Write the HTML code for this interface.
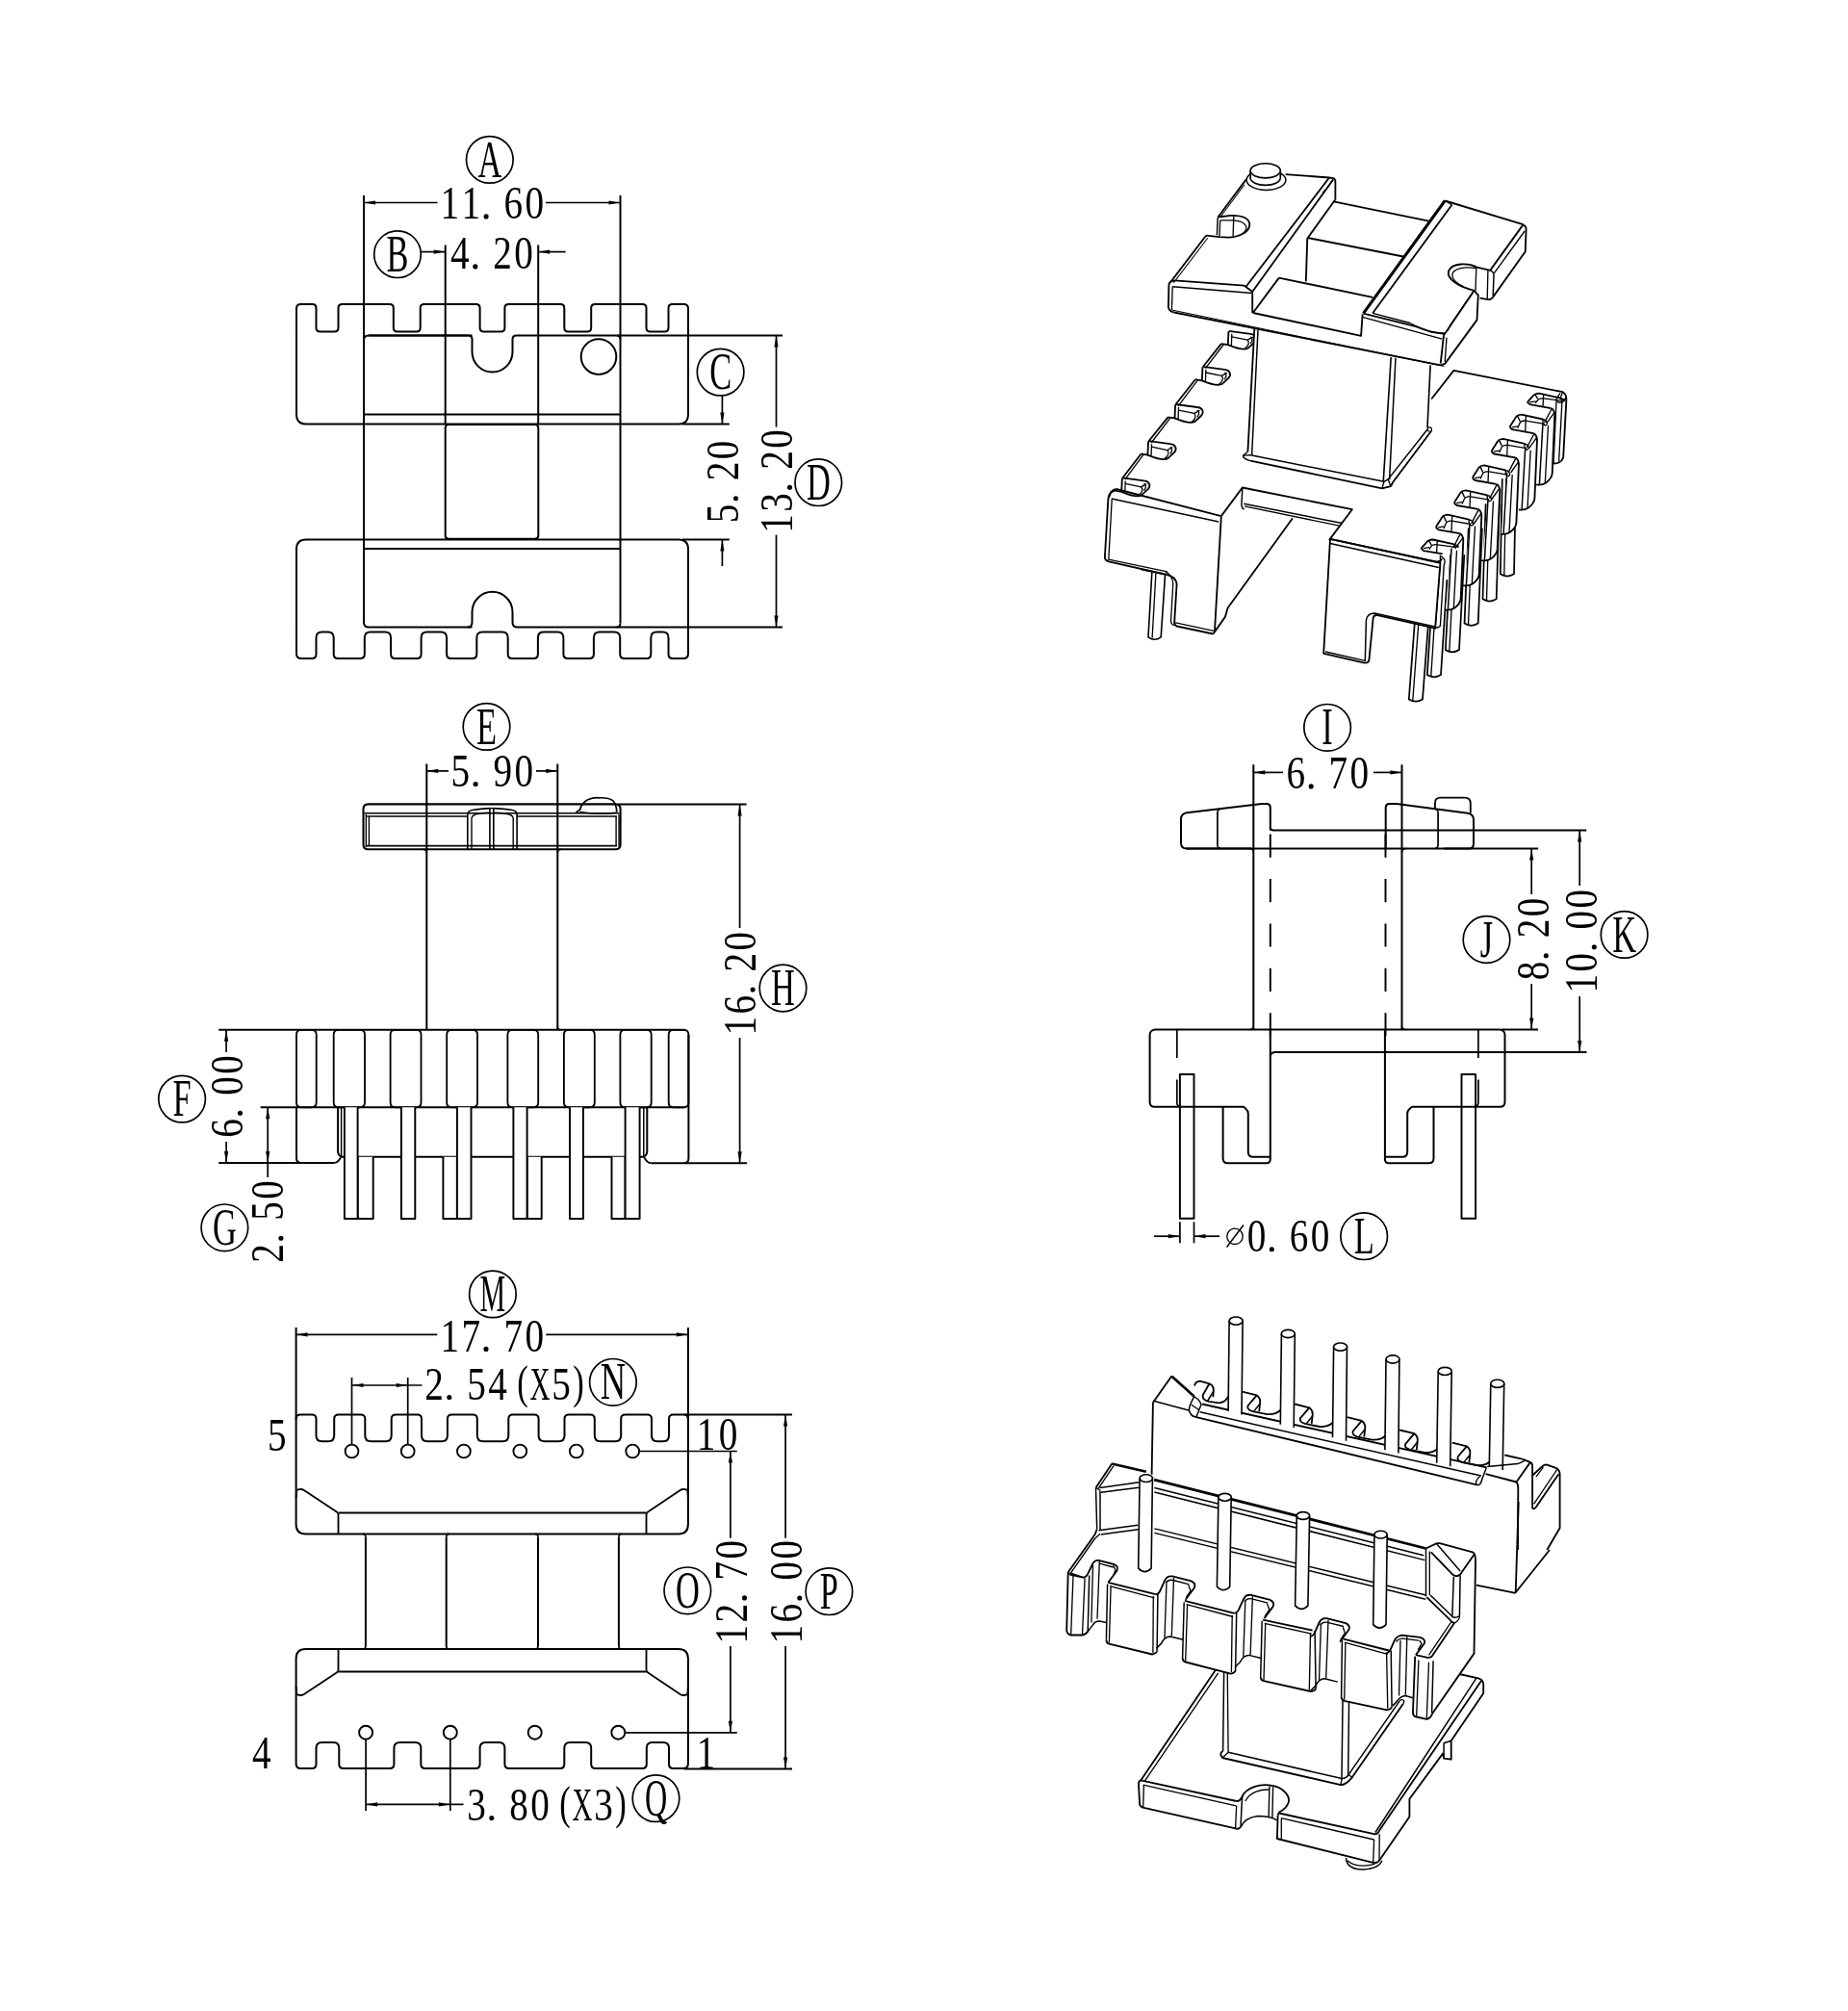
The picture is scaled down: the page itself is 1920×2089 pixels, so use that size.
<!DOCTYPE html>
<html><head><meta charset="utf-8"><title>Bobbin drawing</title>
<style>
html,body{margin:0;padding:0;background:#fff;}
body{width:1920px;height:2089px;overflow:hidden;}
svg{display:block;font-family:"Liberation Serif",serif;}
svg path{stroke-linecap:butt;stroke-linejoin:round;}
</style></head><body>
<svg width="1920" height="2089" viewBox="0 0 1920 2089">
<rect width="1920" height="2089" fill="#fff"/>
<g style="opacity:0.999">
<g id="v1">
<path d="M318 440.5Q308 440.5 308 430.5L308 320.5Q308 316 312.5 316L324.5 316Q328.5 316 328.5 320L328.5 340.5Q328.5 344.5 332.5 344.5L347.5 344.5Q351.5 344.5 351.5 340.5L351.5 320Q351.5 316 355.5 316L404.8 316Q408.8 316 408.8 320L408.8 340.5Q408.8 344.5 412.8 344.5L432.7 344.5Q436.7 344.5 436.7 340.5L436.7 320Q436.7 316 440.7 316L494.6 316Q498.6 316 498.6 320L498.6 340.5Q498.6 344.5 502.6 344.5L520.4 344.5Q524.4 344.5 524.4 340.5L524.4 320Q524.4 316 528.4 316L582.3 316Q586.3 316 586.3 320L586.3 340.5Q586.3 344.5 590.3 344.5L610.2 344.5Q614.2 344.5 614.2 340.5L614.2 320Q614.2 316 618.2 316L667.5 316Q671.5 316 671.5 320L671.5 340.5Q671.5 344.5 675.5 344.5L690.5 344.5Q694.5 344.5 694.5 340.5L694.5 320Q694.5 316 698.5 316L710.5 316Q715 316 715 320.5L715 430.5Q715 440.5 705 440.5Z" fill="none" stroke="#000" stroke-width="2.01" />
<path d="M378 440.5L378 353.5Q378 348.5 383 348.5L490.5 348.5" fill="none" stroke="#000" stroke-width="2.01" />
<path d="M486.5 348.5Q490.5 348.5 490.5 352.5L490.5 365.5A21 21 0 0 0 532.5 365.5L532.5 352.5Q532.5 348.5 536.5 348.5L640.5 348.5" fill="none" stroke="#000" stroke-width="2.01" />
<path d="M486.5 348.5L383 348.5" stroke="#000" stroke-width="2.01" fill="none" />
<path d="M378 430.5L644.5 430.5" stroke="#000" stroke-width="2.01" fill="none" />
<circle cx="622" cy="370.6" r="18.3" fill="none" stroke="#000" stroke-width="2.0"/>
<path d="M462.7 444.5Q462.7 441 466.2 441L555.8 441Q559.3 441 559.3 444.5L559.3 556.3Q559.3 559.8 555.8 559.8L466.2 559.8Q462.7 559.8 462.7 556.3Z" fill="none" stroke="#000" stroke-width="2.01" />
<path d="M318 560.5Q308 560.5 308 570.5L308 679Q308 684 313 684L324 684Q328.5 684 328.5 679.5L328.5 662.4Q328.5 656.4 334.5 656.4L340.7 656.4Q346.7 656.4 346.7 662.4L346.7 679.5Q346.7 684 351.2 684L374.3 684Q378.8 684 378.8 679.5L378.8 662.4Q378.8 656.4 384.8 656.4L400.1 656.4Q406.1 656.4 406.1 662.4L406.1 679.5Q406.1 684 410.6 684L433.1 684Q437.6 684 437.6 679.5L437.6 662.4Q437.6 656.4 443.6 656.4L458.1 656.4Q464.1 656.4 464.1 662.4L464.1 679.5Q464.1 684 468.6 684L490.8 684Q495.3 684 495.3 679.5L495.3 662.4Q495.3 656.4 501.3 656.4L521.7 656.4Q527.7 656.4 527.7 662.4L527.7 679.5Q527.7 684 532.2 684L554.4 684Q558.9 684 558.9 679.5L558.9 662.4Q558.9 656.4 564.9 656.4L579.4 656.4Q585.4 656.4 585.4 662.4L585.4 679.5Q585.4 684 589.9 684L612.4 684Q616.9 684 616.9 679.5L616.9 662.4Q616.9 656.4 622.9 656.4L638.2 656.4Q644.2 656.4 644.2 662.4L644.2 679.5Q644.2 684 648.7 684L671.8 684Q676.3 684 676.3 679.5L676.3 662.4Q676.3 656.4 682.3 656.4L688.5 656.4Q694.5 656.4 694.5 662.4L694.5 679.5Q694.5 684 699 684L710 684Q715 684 715 679L715 570.5Q715 560.5 705 560.5Z" fill="none" stroke="#000" stroke-width="2.01" />
<path d="M378 570L644.5 570" stroke="#000" stroke-width="2.01" fill="none" />
<path d="M378 560.5L378 646.6Q378 651.6 383 651.6L490.5 651.6" fill="none" stroke="#000" stroke-width="2.01" />
<path d="M485.5 651.6Q490.5 651.6 490.5 646.6L490.5 635.8A21 21 0 0 1 532.5 635.8L532.5 646.6Q532.5 651.6 537.5 651.6L813 651.6" fill="none" stroke="#000" stroke-width="2.01" />
<path d="M378 203L378 647.6" stroke="#000" stroke-width="2.01" fill="none" />
<path d="M644.5 203L644.5 647.6" stroke="#000" stroke-width="2.01" fill="none" />
<path d="M644.5 647.6Q644.5 651.6 640.5 651.6" fill="none" stroke="#000" stroke-width="2.01" />
<path d="M462.7 254.5L462.7 441" stroke="#000" stroke-width="2.01" fill="none" />
<path d="M559.2 254.5L559.2 441" stroke="#000" stroke-width="2.01" fill="none" />
<path d="M640.5 348.5L813 348.5" stroke="#000" stroke-width="2.01" fill="none" />
<path d="M644.5 352.5Q644.5 348.5 640.5 348.5" fill="none" stroke="#000" stroke-width="2.01" />
<path d="M378 210.5L454.5 210.5" stroke="#000" stroke-width="1.72" fill="none" />
<path d="M567 210.5L644.5 210.5" stroke="#000" stroke-width="1.72" fill="none" />
<path d="M378 210.5L390 208.4L390 212.6Z" fill="#000"/>
<path d="M644.5 210.5L632.5 212.6L632.5 208.4Z" fill="#000"/>
<text transform="translate(467.2 227.4) scale(0.8 1)" font-size="49" text-anchor="middle">1</text>
<text transform="translate(489.2 227.4) scale(0.8 1)" font-size="49" text-anchor="middle">1</text>
<circle cx="505.1" cy="224.9" r="2.55" fill="#000"/>
<text transform="translate(533.2 227.4) scale(0.8 1)" font-size="49" text-anchor="middle">6</text>
<text transform="translate(555.2 227.4) scale(0.8 1)" font-size="49" text-anchor="middle">0</text>
<circle cx="508.8" cy="165.9" r="24.3" fill="none" stroke="#000" stroke-width="1.7"/>
<text transform="translate(508.8 183.5) scale(0.62 1)" font-size="55.5" text-anchor="middle">A</text>
<path d="M437.5 261.6L462.7 261.6" stroke="#000" stroke-width="1.72" fill="none" />
<path d="M559.2 261.6L587.6 261.6" stroke="#000" stroke-width="1.72" fill="none" />
<path d="M462.7 261.6L450.7 263.7L450.7 259.5Z" fill="#000"/>
<path d="M559.2 261.6L571.2 259.5L571.2 263.7Z" fill="#000"/>
<text transform="translate(477.9 279.4) scale(0.8 1)" font-size="49" text-anchor="middle">4</text>
<circle cx="493.8" cy="276.9" r="2.55" fill="#000"/>
<text transform="translate(522 279.4) scale(0.8 1)" font-size="49" text-anchor="middle">2</text>
<text transform="translate(544 279.4) scale(0.8 1)" font-size="49" text-anchor="middle">0</text>
<circle cx="413" cy="264.2" r="24.3" fill="none" stroke="#000" stroke-width="1.7"/>
<text transform="translate(413 281.8) scale(0.62 1)" font-size="55.5" text-anchor="middle">B</text>
<path d="M709 440.5L757.8 440.5" stroke="#000" stroke-width="2.01" fill="none" />
<path d="M709 560.5L757.8 560.5" stroke="#000" stroke-width="2.01" fill="none" />
<path d="M750.4 411L750.4 440.5" stroke="#000" stroke-width="1.72" fill="none" />
<path d="M750.4 440.5L748.3 428.5L752.5 428.5Z" fill="#000"/>
<path d="M750.4 560.5L750.4 588" stroke="#000" stroke-width="1.72" fill="none" />
<path d="M750.4 560.5L752.5 572.5L748.3 572.5Z" fill="#000"/>
<g transform="translate(767 500.5) rotate(-90)">
<text transform="translate(-33 0) scale(0.8 1)" font-size="49" text-anchor="middle">5</text>
<circle cx="-17.2" cy="-2.5" r="2.55" fill="#000"/>
<text transform="translate(11 0) scale(0.8 1)" font-size="49" text-anchor="middle">2</text>
<text transform="translate(33 0) scale(0.8 1)" font-size="49" text-anchor="middle">0</text>
</g>
<circle cx="748.6" cy="386.6" r="24.3" fill="none" stroke="#000" stroke-width="1.7"/>
<text transform="translate(748.6 404.2) scale(0.62 1)" font-size="55.5" text-anchor="middle">C</text>
<path d="M806.5 348.5L806.5 443.6" stroke="#000" stroke-width="1.72" fill="none" />
<path d="M806.5 555.6L806.5 651.6" stroke="#000" stroke-width="1.72" fill="none" />
<path d="M806.5 348.5L808.6 360.5L804.4 360.5Z" fill="#000"/>
<path d="M806.5 651.6L804.4 639.6L808.6 639.6Z" fill="#000"/>
<g transform="translate(823 500) rotate(-90)">
<text transform="translate(-44 0) scale(0.8 1)" font-size="49" text-anchor="middle">1</text>
<text transform="translate(-22 0) scale(0.8 1)" font-size="49" text-anchor="middle">3</text>
<circle cx="-6.2" cy="-2.5" r="2.55" fill="#000"/>
<text transform="translate(22 0) scale(0.8 1)" font-size="49" text-anchor="middle">2</text>
<text transform="translate(44 0) scale(0.8 1)" font-size="49" text-anchor="middle">0</text>
</g>
<circle cx="850.3" cy="501.2" r="24.3" fill="none" stroke="#000" stroke-width="1.7"/>
<text transform="translate(850.3 518.8) scale(0.62 1)" font-size="55.5" text-anchor="middle">D</text>
</g>
<g id="v2">
<path d="M598.3 844.2L602.7 840.9Q603.8 835.1 610.1 831Q616.4 828.3 622.7 828.8Q630.9 828.5 635.2 830.7Q640.2 833.1 640.9 843.6" fill="none" stroke="#000" stroke-width="1.72" />
<path d="M602 843.6Q621.1 846.7 640.2 844.2" fill="none" stroke="#000" stroke-width="1.49" />
<path d="M377.5 840.4Q377.5 835.4 382.5 835.4L639.6 835.4Q644.6 835.4 644.6 840.4L644.6 877.2Q644.6 882.2 639.6 882.2L382.5 882.2Q377.5 882.2 377.5 877.2Z" fill="none" stroke="#000" stroke-width="2.07" />
<path d="M378.5 844.8L643.6 844.8" stroke="#000" stroke-width="1.61" fill="none" />
<path d="M381 848L485.8 848" stroke="#000" stroke-width="1.49" fill="none" />
<path d="M537.1 848L641 848" stroke="#000" stroke-width="1.49" fill="none" />
<path d="M381 878.6L641 878.6" stroke="#000" stroke-width="1.61" fill="none" />
<path d="M380.3 846L380.3 880" stroke="#000" stroke-width="1.38" fill="none" />
<path d="M383.4 848L383.4 878.6" stroke="#000" stroke-width="1.38" fill="none" />
<path d="M640.1 848L640.1 878.6" stroke="#000" stroke-width="1.38" fill="none" />
<path d="M643.1 846L643.1 880" stroke="#000" stroke-width="1.38" fill="none" />
<path d="M485.8 882L485.8 846Q486 842 492 841.2Q503 839.6 508.9 839.6" fill="none" stroke="#000" stroke-width="1.61" />
<path d="M537.1 882L537.1 846Q537 842 531 841.2Q520 839.6 512.8 839.6" fill="none" stroke="#000" stroke-width="1.61" />
<path d="M490 882L490 850Q490.5 846.5 496 845.5Q503 844.2 508.9 844.2" fill="none" stroke="#000" stroke-width="1.38" />
<path d="M533.2 882L533.2 850Q532.7 846.5 527 845.5Q520 844.2 512.8 844.2" fill="none" stroke="#000" stroke-width="1.38" />
<path d="M508.9 839.6L508.9 882" stroke="#000" stroke-width="1.61" fill="none" />
<path d="M512.8 839.6L512.8 882" stroke="#000" stroke-width="1.61" fill="none" />
<path d="M508.9 839.6L512.8 839.6" stroke="#000" stroke-width="1.38" fill="none" />
<path d="M443.3 793.4L443.3 1069.8" stroke="#000" stroke-width="2.01" fill="none" />
<path d="M579.3 793.4L579.3 1069.8" stroke="#000" stroke-width="2.01" fill="none" />
<path d="M439.3 882.2Q443.3 882.2 443.3 886" fill="none" stroke="#000" stroke-width="1.49" />
<path d="M583.3 882.2Q579.3 882.2 579.3 886" fill="none" stroke="#000" stroke-width="1.49" />
<path d="M582.3 1069.8Q579.3 1069.8 579.3 1066" fill="none" stroke="#000" stroke-width="1.49" />
<path d="M227.2 1069.8L711.4 1069.8" stroke="#000" stroke-width="2.01" fill="none" />
<path d="M270.7 1150.3L711.4 1150.3" stroke="#000" stroke-width="2.01" fill="none" />
<path d="M308 1074.8Q308 1069.8 313 1069.8L323.7 1069.8Q328.7 1069.8 328.7 1074.8L328.7 1145.3Q328.7 1150.3 323.7 1150.3L313 1150.3Q308 1150.3 308 1145.3Z" fill="none" stroke="#000" stroke-width="1.84" />
<path d="M346.7 1074.8Q346.7 1069.8 351.7 1069.8L374 1069.8Q379 1069.8 379 1074.8L379 1145.3Q379 1150.3 374 1150.3L351.7 1150.3Q346.7 1150.3 346.7 1145.3Z" fill="none" stroke="#000" stroke-width="1.84" />
<path d="M405.6 1074.8Q405.6 1069.8 410.6 1069.8L432.5 1069.8Q437.5 1069.8 437.5 1074.8L437.5 1145.3Q437.5 1150.3 432.5 1150.3L410.6 1150.3Q405.6 1150.3 405.6 1145.3Z" fill="none" stroke="#000" stroke-width="1.84" />
<path d="M464.2 1074.8Q464.2 1069.8 469.2 1069.8L491 1069.8Q496 1069.8 496 1074.8L496 1145.3Q496 1150.3 491 1150.3L469.2 1150.3Q464.2 1150.3 464.2 1145.3Z" fill="none" stroke="#000" stroke-width="1.84" />
<path d="M527.4 1074.8Q527.4 1069.8 532.4 1069.8L554.2 1069.8Q559.2 1069.8 559.2 1074.8L559.2 1145.3Q559.2 1150.3 554.2 1150.3L532.4 1150.3Q527.4 1150.3 527.4 1145.3Z" fill="none" stroke="#000" stroke-width="1.84" />
<path d="M585.9 1074.8Q585.9 1069.8 590.9 1069.8L612.8 1069.8Q617.8 1069.8 617.8 1074.8L617.8 1145.3Q617.8 1150.3 612.8 1150.3L590.9 1150.3Q585.9 1150.3 585.9 1145.3Z" fill="none" stroke="#000" stroke-width="1.84" />
<path d="M644.4 1074.8Q644.4 1069.8 649.4 1069.8L671.7 1069.8Q676.7 1069.8 676.7 1074.8L676.7 1145.3Q676.7 1150.3 671.7 1150.3L649.4 1150.3Q644.4 1150.3 644.4 1145.3Z" fill="none" stroke="#000" stroke-width="1.84" />
<path d="M694.7 1074.8Q694.7 1069.8 699.7 1069.8L710.4 1069.8Q715.4 1069.8 715.4 1074.8L715.4 1145.3Q715.4 1150.3 710.4 1150.3L699.7 1150.3Q694.7 1150.3 694.7 1145.3Z" fill="none" stroke="#000" stroke-width="1.84" />
<path d="M354 1201.8L669.5 1201.8" stroke="#000" stroke-width="2.01" fill="none" />
<path d="M308 1150.3L308 1203Q308 1208 313 1208L347 1208" fill="none" stroke="#000" stroke-width="2.01" />
<path d="M351.1 1150.3L351.1 1196Q351.1 1200 355 1201.8" fill="none" stroke="#000" stroke-width="2.01" />
<path d="M347 1208Q351 1208 354 1202.5" fill="none" stroke="#000" stroke-width="1.72" />
<path d="M354.6 1150.3L354.6 1201.8" stroke="#000" stroke-width="1.49" fill="none" />
<path d="M715.4 1074.8L715.4 1203.2Q715.4 1208.2 710.4 1208.2L676.4 1208.2" fill="none" stroke="#000" stroke-width="2.01" />
<path d="M672.3 1150.3L672.3 1196Q672.3 1200 668.4 1201.8" fill="none" stroke="#000" stroke-width="2.01" />
<path d="M676.4 1208.2Q672.4 1208.2 669.4 1202.5" fill="none" stroke="#000" stroke-width="1.72" />
<path d="M668.8 1150.3L668.8 1201.8" stroke="#000" stroke-width="1.49" fill="none" />
<path d="M371.6 1201.8L371.6 1266L387.7 1266L387.7 1201.8" fill="#fff" stroke="#000" stroke-width="1.95" />
<path d="M460.4 1201.8L460.4 1266L474.9 1266L474.9 1201.8" fill="#fff" stroke="#000" stroke-width="1.95" />
<path d="M547.6 1201.8L547.6 1266L562.7 1266L562.7 1201.8" fill="#fff" stroke="#000" stroke-width="1.95" />
<path d="M635.5 1201.8L635.5 1266L649.6 1266L649.6 1201.8" fill="#fff" stroke="#000" stroke-width="1.95" />
<path d="M357.9 1150.3L357.9 1266L371.6 1266L371.6 1150.3" fill="#fff" stroke="#000" stroke-width="1.95" />
<path d="M416.9 1150.3L416.9 1266L431.3 1266L431.3 1150.3" fill="#fff" stroke="#000" stroke-width="1.95" />
<path d="M474.9 1150.3L474.9 1266L489.5 1266L489.5 1150.3" fill="#fff" stroke="#000" stroke-width="1.95" />
<path d="M533.4 1150.3L533.4 1266L547.6 1266L547.6 1150.3" fill="#fff" stroke="#000" stroke-width="1.95" />
<path d="M592 1150.3L592 1266L605.9 1266L605.9 1150.3" fill="#fff" stroke="#000" stroke-width="1.95" />
<path d="M649.6 1150.3L649.6 1266L664.6 1266L664.6 1150.3" fill="#fff" stroke="#000" stroke-width="1.95" />
<path d="M443.3 800.9L466 800.9" stroke="#000" stroke-width="1.72" fill="none" />
<path d="M557 800.9L579.3 800.9" stroke="#000" stroke-width="1.72" fill="none" />
<path d="M443.3 800.9L455.3 798.8L455.3 803Z" fill="#000"/>
<path d="M579.3 800.9L567.3 803L567.3 798.8Z" fill="#000"/>
<text transform="translate(478.3 817) scale(0.8 1)" font-size="49" text-anchor="middle">5</text>
<circle cx="494.1" cy="814.5" r="2.55" fill="#000"/>
<text transform="translate(522.3 817) scale(0.8 1)" font-size="49" text-anchor="middle">9</text>
<text transform="translate(544.3 817) scale(0.8 1)" font-size="49" text-anchor="middle">0</text>
<circle cx="505.5" cy="754.9" r="24.3" fill="none" stroke="#000" stroke-width="1.7"/>
<text transform="translate(505.5 772.5) scale(0.62 1)" font-size="55.5" text-anchor="middle">E</text>
<path d="M641.6 835.4L775.6 835.4" stroke="#000" stroke-width="2.01" fill="none" />
<path d="M711.4 1208.2L776 1208.2" stroke="#000" stroke-width="2.01" fill="none" />
<path d="M768.6 835.4L768.6 964" stroke="#000" stroke-width="1.72" fill="none" />
<path d="M768.6 1078L768.6 1208.2" stroke="#000" stroke-width="1.72" fill="none" />
<path d="M768.6 835.4L770.7 847.4L766.5 847.4Z" fill="#000"/>
<path d="M768.6 1208.2L766.5 1196.2L770.7 1196.2Z" fill="#000"/>
<g transform="translate(784.6 1021.8) rotate(-90)">
<text transform="translate(-44 0) scale(0.8 1)" font-size="49" text-anchor="middle">1</text>
<text transform="translate(-22 0) scale(0.8 1)" font-size="49" text-anchor="middle">6</text>
<circle cx="-6.2" cy="-2.5" r="2.55" fill="#000"/>
<text transform="translate(22 0) scale(0.8 1)" font-size="49" text-anchor="middle">2</text>
<text transform="translate(44 0) scale(0.8 1)" font-size="49" text-anchor="middle">0</text>
</g>
<circle cx="813.5" cy="1026.5" r="24.3" fill="none" stroke="#000" stroke-width="1.7"/>
<text transform="translate(813.5 1044.1) scale(0.62 1)" font-size="55.5" text-anchor="middle">H</text>
<path d="M227.2 1208L313 1208" stroke="#000" stroke-width="2.01" fill="none" />
<path d="M235.1 1069.8L235.1 1093" stroke="#000" stroke-width="1.72" fill="none" />
<path d="M235.1 1186L235.1 1208" stroke="#000" stroke-width="1.72" fill="none" />
<path d="M235.1 1069.8L237.2 1081.8L233 1081.8Z" fill="#000"/>
<path d="M235.1 1208L233 1196L237.2 1196Z" fill="#000"/>
<g transform="translate(252 1139) rotate(-90)">
<text transform="translate(-33 0) scale(0.8 1)" font-size="49" text-anchor="middle">6</text>
<circle cx="-17.2" cy="-2.5" r="2.55" fill="#000"/>
<text transform="translate(11 0) scale(0.8 1)" font-size="49" text-anchor="middle">0</text>
<text transform="translate(33 0) scale(0.8 1)" font-size="49" text-anchor="middle">0</text>
</g>
<circle cx="189.1" cy="1141.6" r="24.3" fill="none" stroke="#000" stroke-width="1.7"/>
<text transform="translate(189.1 1159.2) scale(0.62 1)" font-size="55.5" text-anchor="middle">F</text>
<path d="M278.2 1150.3L278.2 1223" stroke="#000" stroke-width="1.72" fill="none" />
<path d="M278.2 1150.3L280.3 1162.3L276.1 1162.3Z" fill="#000"/>
<path d="M278.2 1208L276.1 1196L280.3 1196Z" fill="#000"/>
<g transform="translate(294.4 1269) rotate(-90)">
<text transform="translate(-33 0) scale(0.8 1)" font-size="49" text-anchor="middle">2</text>
<circle cx="-17.2" cy="-2.5" r="2.55" fill="#000"/>
<text transform="translate(11 0) scale(0.8 1)" font-size="49" text-anchor="middle">5</text>
<text transform="translate(33 0) scale(0.8 1)" font-size="49" text-anchor="middle">0</text>
</g>
<circle cx="233.4" cy="1275.3" r="24.3" fill="none" stroke="#000" stroke-width="1.7"/>
<text transform="translate(233.4 1292.9) scale(0.62 1)" font-size="55.5" text-anchor="middle">G</text>
</g>
<g id="v3">
<path d="M317.6 1593.4Q307.6 1593.4 307.6 1583.4L307.6 1474.1Q307.6 1469.6 312.1 1469.6L324 1469.6Q328.5 1469.6 328.5 1474.1L328.5 1491.2Q328.5 1497.2 334.5 1497.2L341.2 1497.2Q347.2 1497.2 347.2 1491.2L347.2 1474.1Q347.2 1469.6 351.7 1469.6L374.8 1469.6Q379.3 1469.6 379.3 1474.1L379.3 1491.2Q379.3 1497.2 385.3 1497.2L400.7 1497.2Q406.7 1497.2 406.7 1491.2L406.7 1474.1Q406.7 1469.6 411.2 1469.6L433.5 1469.6Q438 1469.6 438 1474.1L438 1491.2Q438 1497.2 444 1497.2L458.9 1497.2Q464.9 1497.2 464.9 1491.2L464.9 1474.1Q464.9 1469.6 469.4 1469.6L491.3 1469.6Q495.8 1469.6 495.8 1474.1L495.8 1491.2Q495.8 1497.2 501.8 1497.2L522.3 1497.2Q528.3 1497.2 528.3 1491.2L528.3 1474.1Q528.3 1469.6 532.8 1469.6L555.1 1469.6Q559.6 1469.6 559.6 1474.1L559.6 1491.2Q559.6 1497.2 565.6 1497.2L580.5 1497.2Q586.5 1497.2 586.5 1491.2L586.5 1474.1Q586.5 1469.6 591 1469.6L613.3 1469.6Q617.8 1469.6 617.8 1474.1L617.8 1491.2Q617.8 1497.2 623.8 1497.2L639.2 1497.2Q645.2 1497.2 645.2 1491.2L645.2 1474.1Q645.2 1469.6 649.7 1469.6L672.5 1469.6Q677 1469.6 677 1474.1L677 1491.2Q677 1497.2 683 1497.2L689 1497.2Q695 1497.2 695 1491.2L695 1474.1Q695 1469.6 699.5 1469.6L710.4 1469.6Q714.9 1469.6 714.9 1474.1L714.9 1583.4Q714.9 1593.4 704.9 1593.4Z" fill="none" stroke="#000" stroke-width="2.01" />
<circle cx="365.5" cy="1507.5" r="6.9" fill="none" stroke="#000" stroke-width="1.9"/>
<circle cx="423.7" cy="1507.5" r="6.9" fill="none" stroke="#000" stroke-width="1.9"/>
<circle cx="481.9" cy="1507.5" r="6.9" fill="none" stroke="#000" stroke-width="1.9"/>
<circle cx="540.3" cy="1507.5" r="6.9" fill="none" stroke="#000" stroke-width="1.9"/>
<circle cx="598.8" cy="1507.5" r="6.9" fill="none" stroke="#000" stroke-width="1.9"/>
<circle cx="657.2" cy="1507.5" r="6.9" fill="none" stroke="#000" stroke-width="1.9"/>
<path d="M351.5 1571.6L671.5 1571.6" stroke="#000" stroke-width="2.01" fill="none" />
<path d="M307.6 1556L308.1 1548L310.8 1547.2Q313.5 1546.5 315.8 1548L349.8 1570.5Q351.5 1571.6 351.5 1573.6L351.5 1593.4" fill="none" stroke="#000" stroke-width="1.84" />
<path d="M714.9 1556L714.4 1548L711.7 1547.2Q709 1546.5 706.7 1548.1L673.2 1570.5Q671.5 1571.6 671.5 1573.6L671.5 1593.4" fill="none" stroke="#000" stroke-width="1.84" />
<path d="M379.9 1596.4L379.9 1710" stroke="#000" stroke-width="2.01" fill="none" />
<path d="M376.9 1593.4Q379.9 1593.4 379.9 1596.4" fill="none" stroke="#000" stroke-width="1.61" />
<path d="M376.9 1713Q379.9 1713 379.9 1710" fill="none" stroke="#000" stroke-width="1.61" />
<path d="M463.7 1596.4L463.7 1710" stroke="#000" stroke-width="2.01" fill="none" />
<path d="M466.7 1593.4Q463.7 1593.4 463.7 1596.4" fill="none" stroke="#000" stroke-width="1.61" />
<path d="M466.7 1713Q463.7 1713 463.7 1710" fill="none" stroke="#000" stroke-width="1.61" />
<path d="M559 1596.4L559 1710" stroke="#000" stroke-width="2.01" fill="none" />
<path d="M556 1593.4Q559 1593.4 559 1596.4" fill="none" stroke="#000" stroke-width="1.61" />
<path d="M556 1713Q559 1713 559 1710" fill="none" stroke="#000" stroke-width="1.61" />
<path d="M642.9 1596.4L642.9 1710" stroke="#000" stroke-width="2.01" fill="none" />
<path d="M645.9 1593.4Q642.9 1593.4 642.9 1596.4" fill="none" stroke="#000" stroke-width="1.61" />
<path d="M645.9 1713Q642.9 1713 642.9 1710" fill="none" stroke="#000" stroke-width="1.61" />
<path d="M317.6 1713Q307.6 1713 307.6 1723L307.6 1832Q307.6 1837 312.6 1837L324 1837Q328.5 1837 328.5 1832.5L328.5 1816Q328.5 1810 334.5 1810L346.3 1810Q352.3 1810 352.3 1816L352.3 1832.5Q352.3 1837 356.8 1837L404.9 1837Q409.4 1837 409.4 1832.5L409.4 1816Q409.4 1810 415.4 1810L431.3 1810Q437.3 1810 437.3 1816L437.3 1832.5Q437.3 1837 441.8 1837L494.1 1837Q498.6 1837 498.6 1832.5L498.6 1816Q498.6 1810 504.6 1810L518.4 1810Q524.4 1810 524.4 1816L524.4 1832.5Q524.4 1837 528.9 1837L581.8 1837Q586.3 1837 586.3 1832.5L586.3 1816Q586.3 1810 592.3 1810L608.2 1810Q614.2 1810 614.2 1816L614.2 1832.5Q614.2 1837 618.7 1837L667.3 1837Q671.8 1837 671.8 1832.5L671.8 1816Q671.8 1810 677.8 1810L689 1810Q695 1810 695 1816L695 1832.5Q695 1837 699.5 1837L709.9 1837Q714.9 1837 714.9 1832L714.9 1723Q714.9 1713 704.9 1713Z" fill="none" stroke="#000" stroke-width="2.01" />
<path d="M351.5 1736.4L671.5 1736.4" stroke="#000" stroke-width="2.01" fill="none" />
<path d="M307.6 1752L308.1 1760L310.8 1760.8Q313.5 1761.5 315.8 1760L349.8 1737.5Q351.5 1736.4 351.5 1734.4L351.5 1713" fill="none" stroke="#000" stroke-width="1.84" />
<path d="M714.9 1752L714.4 1760L711.7 1760.8Q709 1761.5 706.7 1759.9L673.2 1737.5Q671.5 1736.4 671.5 1734.4L671.5 1713" fill="none" stroke="#000" stroke-width="1.84" />
<circle cx="380.1" cy="1799.7" r="7" fill="none" stroke="#000" stroke-width="1.9"/>
<circle cx="467.8" cy="1799.7" r="7" fill="none" stroke="#000" stroke-width="1.9"/>
<circle cx="555.7" cy="1799.7" r="7" fill="none" stroke="#000" stroke-width="1.9"/>
<circle cx="642.3" cy="1799.7" r="7" fill="none" stroke="#000" stroke-width="1.9"/>
<path d="M307.6 1379L307.6 1474.6" stroke="#000" stroke-width="2.01" fill="none" />
<path d="M714.9 1379L714.9 1474.6" stroke="#000" stroke-width="2.01" fill="none" />
<path d="M307.6 1386.3L454.3 1386.3" stroke="#000" stroke-width="1.72" fill="none" />
<path d="M567.3 1386.3L714.9 1386.3" stroke="#000" stroke-width="1.72" fill="none" />
<path d="M307.6 1386.3L319.6 1384.2L319.6 1388.4Z" fill="#000"/>
<path d="M714.9 1386.3L702.9 1388.4L702.9 1384.2Z" fill="#000"/>
<text transform="translate(467.2 1403.9) scale(0.8 1)" font-size="49" text-anchor="middle">1</text>
<text transform="translate(489.2 1403.9) scale(0.8 1)" font-size="49" text-anchor="middle">7</text>
<circle cx="505" cy="1401.4" r="2.55" fill="#000"/>
<text transform="translate(533.2 1403.9) scale(0.8 1)" font-size="49" text-anchor="middle">7</text>
<text transform="translate(555.2 1403.9) scale(0.8 1)" font-size="49" text-anchor="middle">0</text>
<circle cx="511.9" cy="1344.4" r="24.3" fill="none" stroke="#000" stroke-width="1.7"/>
<text transform="translate(511.9 1362) scale(0.54 1)" font-size="55.5" text-anchor="middle">M</text>
<path d="M365.5 1431L365.5 1500.6" stroke="#000" stroke-width="1.72" fill="none" />
<path d="M423.7 1431L423.7 1500.6" stroke="#000" stroke-width="1.72" fill="none" />
<path d="M365.5 1439L438.5 1439" stroke="#000" stroke-width="1.72" fill="none" />
<path d="M365.5 1439L377.5 1436.9L377.5 1441.1Z" fill="#000"/>
<path d="M423.7 1439L411.7 1441.1L411.7 1436.9Z" fill="#000"/>
<text transform="translate(451 1454) scale(0.8 1)" font-size="49" text-anchor="middle">2</text>
<circle cx="466.8" cy="1451.5" r="2.55" fill="#000"/>
<text transform="translate(495 1454) scale(0.8 1)" font-size="49" text-anchor="middle">5</text>
<text transform="translate(517 1454) scale(0.8 1)" font-size="49" text-anchor="middle">4</text>
<text transform="translate(543 1452) scale(0.7200000000000001 1)" font-size="48.019999999999996" text-anchor="middle">(</text>
<text transform="translate(561 1454) scale(0.592 1)" font-size="49" text-anchor="middle">X</text>
<text transform="translate(583 1454) scale(0.8 1)" font-size="49" text-anchor="middle">5</text>
<text transform="translate(601 1452) scale(0.7200000000000001 1)" font-size="48.019999999999996" text-anchor="middle">)</text>
<circle cx="636.9" cy="1435.8" r="24.3" fill="none" stroke="#000" stroke-width="1.7"/>
<text transform="translate(636.9 1453.4) scale(0.66 1)" font-size="55.5" text-anchor="middle">N</text>
<path d="M380.1 1806.7L380.1 1881" stroke="#000" stroke-width="1.72" fill="none" />
<path d="M467.8 1806.7L467.8 1881" stroke="#000" stroke-width="1.72" fill="none" />
<path d="M380.1 1874.4L481.5 1874.4" stroke="#000" stroke-width="1.72" fill="none" />
<path d="M380.1 1874.4L392.1 1872.3L392.1 1876.5Z" fill="#000"/>
<path d="M467.8 1874.4L455.8 1876.5L455.8 1872.3Z" fill="#000"/>
<text transform="translate(495 1891) scale(0.8 1)" font-size="49" text-anchor="middle">3</text>
<circle cx="510.8" cy="1888.5" r="2.55" fill="#000"/>
<text transform="translate(539 1891) scale(0.8 1)" font-size="49" text-anchor="middle">8</text>
<text transform="translate(561 1891) scale(0.8 1)" font-size="49" text-anchor="middle">0</text>
<text transform="translate(587 1889) scale(0.7200000000000001 1)" font-size="48.019999999999996" text-anchor="middle">(</text>
<text transform="translate(605 1891) scale(0.592 1)" font-size="49" text-anchor="middle">X</text>
<text transform="translate(627 1891) scale(0.8 1)" font-size="49" text-anchor="middle">3</text>
<text transform="translate(645 1889) scale(0.7200000000000001 1)" font-size="48.019999999999996" text-anchor="middle">)</text>
<circle cx="681.5" cy="1868.1" r="24.3" fill="none" stroke="#000" stroke-width="1.7"/>
<text transform="translate(681.5 1885.7) scale(0.58 1)" font-size="55.5" text-anchor="middle">Q</text>
<path d="M664.1 1507.5L765.8 1507.5" stroke="#000" stroke-width="1.72" fill="none" />
<path d="M649.3 1799.8L765.8 1799.8" stroke="#000" stroke-width="1.72" fill="none" />
<path d="M758.9 1507.5L758.9 1597.8" stroke="#000" stroke-width="1.72" fill="none" />
<path d="M758.9 1710L758.9 1799.8" stroke="#000" stroke-width="1.72" fill="none" />
<path d="M758.9 1507.5L761 1519.5L756.8 1519.5Z" fill="#000"/>
<path d="M758.9 1799.8L756.8 1787.8L761 1787.8Z" fill="#000"/>
<g transform="translate(776 1653.7) rotate(-90)">
<text transform="translate(-44 0) scale(0.8 1)" font-size="49" text-anchor="middle">1</text>
<text transform="translate(-22 0) scale(0.8 1)" font-size="49" text-anchor="middle">2</text>
<circle cx="-6.2" cy="-2.5" r="2.55" fill="#000"/>
<text transform="translate(22 0) scale(0.8 1)" font-size="49" text-anchor="middle">7</text>
<text transform="translate(44 0) scale(0.8 1)" font-size="49" text-anchor="middle">0</text>
</g>
<circle cx="714.3" cy="1652.3" r="24.3" fill="none" stroke="#000" stroke-width="1.7"/>
<text transform="translate(714.3 1669.9) scale(0.62 1)" font-size="55.5" text-anchor="middle">O</text>
<path d="M710.9 1469.6L823 1469.6" stroke="#000" stroke-width="2.01" fill="none" />
<path d="M710.9 1837.6L823 1837.6" stroke="#000" stroke-width="2.01" fill="none" />
<path d="M816.1 1469.6L816.1 1597.8" stroke="#000" stroke-width="1.72" fill="none" />
<path d="M816.1 1710L816.1 1837.6" stroke="#000" stroke-width="1.72" fill="none" />
<path d="M816.1 1469.6L818.2 1481.6L814 1481.6Z" fill="#000"/>
<path d="M816.1 1837.6L814 1825.6L818.2 1825.6Z" fill="#000"/>
<g transform="translate(833.3 1653.8) rotate(-90)">
<text transform="translate(-44 0) scale(0.8 1)" font-size="49" text-anchor="middle">1</text>
<text transform="translate(-22 0) scale(0.8 1)" font-size="49" text-anchor="middle">6</text>
<circle cx="-6.2" cy="-2.5" r="2.55" fill="#000"/>
<text transform="translate(22 0) scale(0.8 1)" font-size="49" text-anchor="middle">0</text>
<text transform="translate(44 0) scale(0.8 1)" font-size="49" text-anchor="middle">0</text>
</g>
<circle cx="861.4" cy="1653.2" r="24.3" fill="none" stroke="#000" stroke-width="1.7"/>
<text transform="translate(861.4 1670.8) scale(0.62 1)" font-size="55.5" text-anchor="middle">P</text>
<text transform="translate(733.5 1506.3) scale(0.8 1)" font-size="49" text-anchor="middle">1</text>
<text transform="translate(756.5 1506.3) scale(0.8 1)" font-size="49" text-anchor="middle">0</text>
<text transform="translate(733.5 1836.8) scale(0.8 1)" font-size="49" text-anchor="middle">1</text>
<text transform="translate(287.9 1506.7) scale(0.8 1)" font-size="49" text-anchor="middle">5</text>
<text transform="translate(271.7 1837) scale(0.8 1)" font-size="49" text-anchor="middle">4</text>
</g>
<g id="v5">
<path d="M1319.8 862.5L1319.8 838.8Q1319.8 834.9 1315.9 834.9L1313 834.9Q1312 834.9 1311 835L1232.9 844.3Q1230.5 844.6 1228.8 846.3L1228.8 846.3Q1227 848 1227 850.4L1227 875.4Q1227 881.4 1233 881.4L1300 881.4" fill="none" stroke="#000" stroke-width="2.01" />
<path d="M1264.9 844Q1264.9 841 1268 840.2" fill="none" stroke="#000" stroke-width="1.49" />
<path d="M1264.9 844L1264.9 878" stroke="#000" stroke-width="1.72" fill="none" />
<path d="M1264.9 878Q1264.9 881 1268 881.4" fill="none" stroke="#000" stroke-width="1.49" />
<path d="M1439.7 881.4L1439.7 838.9Q1439.7 834.9 1443.7 834.9L1449 834.9Q1450 834.9 1451 835L1525.1 844.8Q1527.5 845.1 1529.2 846.8L1529.2 846.8Q1531 848.5 1531 850.9L1531 876.4Q1531 881.4 1526 881.4L1500 881.4" fill="none" stroke="#000" stroke-width="2.01" />
<path d="M1494.1 844Q1494.1 841 1491.5 840.4" fill="none" stroke="#000" stroke-width="1.49" />
<path d="M1494.1 844L1494.1 878" stroke="#000" stroke-width="1.72" fill="none" />
<path d="M1494.1 878Q1494.1 881 1491 881.4" fill="none" stroke="#000" stroke-width="1.49" />
<path d="M1490.9 839.8L1490.9 834.2Q1490.9 828.6 1496.5 828.6L1521.8 828.6Q1527.8 828.6 1527.8 834.6L1527.8 844.6" fill="none" stroke="#000" stroke-width="1.84" />
<path d="M1232 881.4L1598.2 881.4" stroke="#000" stroke-width="2.01" fill="none" />
<path d="M1319.8 859.5Q1319.8 862.6 1323 862.6L1648.2 862.6" fill="none" stroke="#000" stroke-width="2.01" />
<path d="M1302.3 794.2L1302.3 1069.5" stroke="#000" stroke-width="2.01" fill="none" />
<path d="M1456.5 794.2L1456.5 1069.5" stroke="#000" stroke-width="2.01" fill="none" />
<path d="M1298 881.4Q1302.3 881.4 1302.3 885.4" fill="none" stroke="#000" stroke-width="1.49" />
<path d="M1461 881.4Q1456.5 881.4 1456.5 885.4" fill="none" stroke="#000" stroke-width="1.49" />
<path d="M1298.5 1069.5Q1302.3 1069.5 1302.3 1066" fill="none" stroke="#000" stroke-width="1.49" />
<path d="M1460.5 1069.5Q1456.5 1069.5 1456.5 1066" fill="none" stroke="#000" stroke-width="1.49" />
<path d="M1319.8 866.6L1319.8 1078" stroke="#000" stroke-width="1.95" fill="none" stroke-dasharray="24.2 22.2"/>
<path d="M1439.5 866.6L1439.5 1078" stroke="#000" stroke-width="1.95" fill="none" stroke-dasharray="24.2 22.2"/>
<path d="M1319.8 1069.5L1200.3 1069.5Q1198 1069.5 1196.3 1071L1196.3 1071Q1194.6 1072.5 1194.6 1074.8L1194.6 1144.7Q1194.6 1149.7 1199.6 1149.7L1292 1149.7L1294.4 1151.7Q1296.8 1153.7 1296.8 1156.8L1296.8 1196.8Q1296.8 1201.8 1301.8 1201.8L1319.8 1201.8" fill="none" stroke="#000" stroke-width="2.01" />
<path d="M1270.6 1149.7L1270.6 1203.3Q1270.6 1208.3 1275.6 1208.3L1315.8 1208.3Q1319.8 1208.3 1319.8 1204.3L1319.8 1069.5" fill="none" stroke="#000" stroke-width="2.01" />
<path d="M1222.8 1069.5L1222.8 1099" stroke="#000" stroke-width="1.72" fill="none" />
<path d="M1222.8 1121.6L1222.8 1145Q1222.8 1149 1226 1149.7" fill="none" stroke="#000" stroke-width="1.72" />
<path d="M1438.9 1069.5L1557.7 1069.5Q1560 1069.5 1561.8 1071L1561.8 1071Q1563.5 1072.5 1563.5 1074.8L1563.5 1144.7Q1563.5 1149.7 1558.5 1149.7L1467 1149.7L1464.6 1151.7Q1462.2 1153.7 1462.2 1156.8L1462.2 1196.8Q1462.2 1201.8 1457.2 1201.8L1438.9 1201.8" fill="none" stroke="#000" stroke-width="2.01" />
<path d="M1489.5 1149.7L1489.5 1203.3Q1489.5 1208.3 1484.5 1208.3L1442.9 1208.3Q1438.9 1208.3 1438.9 1204.3L1438.9 1069.5" fill="none" stroke="#000" stroke-width="2.01" />
<path d="M1535.9 1069.5L1535.9 1099" stroke="#000" stroke-width="1.72" fill="none" />
<path d="M1535.9 1121.6L1535.9 1145Q1535.9 1149 1532.7 1149.7" fill="none" stroke="#000" stroke-width="1.72" />
<path d="M1319.8 1097Q1320.5 1093 1325 1092.9L1648.5 1092.9" fill="none" stroke="#000" stroke-width="2.01" />
<path d="M1225.9 1116L1225.9 1265.7L1240.5 1265.7L1240.5 1116Z" fill="none" stroke="#000" stroke-width="1.95" />
<path d="M1518.5 1116L1518.5 1265.7L1533.1 1265.7L1533.1 1116Z" fill="none" stroke="#000" stroke-width="1.95" />
<path d="M1319.8 1069.5L1438.9 1069.5" stroke="#000" stroke-width="2.01" fill="none" />
<path d="M1560 1069.5L1598 1069.5" stroke="#000" stroke-width="2.01" fill="none" />
<path d="M1302.3 802.4L1333 802.4" stroke="#000" stroke-width="1.72" fill="none" />
<path d="M1427 802.4L1456.5 802.4" stroke="#000" stroke-width="1.72" fill="none" />
<path d="M1302.3 802.4L1314.3 800.3L1314.3 804.5Z" fill="#000"/>
<path d="M1456.5 802.4L1444.5 804.5L1444.5 800.3Z" fill="#000"/>
<text transform="translate(1346.4 819.4) scale(0.8 1)" font-size="49" text-anchor="middle">6</text>
<circle cx="1362.2" cy="816.9" r="2.55" fill="#000"/>
<text transform="translate(1390.4 819.4) scale(0.8 1)" font-size="49" text-anchor="middle">7</text>
<text transform="translate(1412.4 819.4) scale(0.8 1)" font-size="49" text-anchor="middle">0</text>
<circle cx="1379.1" cy="755.8" r="24.3" fill="none" stroke="#000" stroke-width="1.7"/>
<text transform="translate(1379.1 773.4) scale(0.62 1)" font-size="55.5" text-anchor="middle">I</text>
<path d="M1591.2 881.4L1591.2 929" stroke="#000" stroke-width="1.72" fill="none" />
<path d="M1591.2 1022L1591.2 1069.5" stroke="#000" stroke-width="1.72" fill="none" />
<path d="M1591.2 881.4L1593.3 893.4L1589.1 893.4Z" fill="#000"/>
<path d="M1591.2 1069.5L1589.1 1057.5L1593.3 1057.5Z" fill="#000"/>
<g transform="translate(1608.8 975.5) rotate(-90)">
<text transform="translate(-33 0) scale(0.8 1)" font-size="49" text-anchor="middle">8</text>
<circle cx="-17.2" cy="-2.5" r="2.55" fill="#000"/>
<text transform="translate(11 0) scale(0.8 1)" font-size="49" text-anchor="middle">2</text>
<text transform="translate(33 0) scale(0.8 1)" font-size="49" text-anchor="middle">0</text>
</g>
<circle cx="1544.5" cy="976" r="24.3" fill="none" stroke="#000" stroke-width="1.7"/>
<text transform="translate(1544.5 993.6) scale(0.62 1)" font-size="55.5" text-anchor="middle">J</text>
<path d="M1641.2 862.6L1641.2 920" stroke="#000" stroke-width="1.72" fill="none" />
<path d="M1641.2 1035L1641.2 1092.9" stroke="#000" stroke-width="1.72" fill="none" />
<path d="M1641.2 862.6L1643.3 874.6L1639.1 874.6Z" fill="#000"/>
<path d="M1641.2 1092.9L1639.1 1080.9L1643.3 1080.9Z" fill="#000"/>
<g transform="translate(1658.8 977.6) rotate(-90)">
<text transform="translate(-44 0) scale(0.8 1)" font-size="49" text-anchor="middle">1</text>
<text transform="translate(-22 0) scale(0.8 1)" font-size="49" text-anchor="middle">0</text>
<circle cx="-6.2" cy="-2.5" r="2.55" fill="#000"/>
<text transform="translate(22 0) scale(0.8 1)" font-size="49" text-anchor="middle">0</text>
<text transform="translate(44 0) scale(0.8 1)" font-size="49" text-anchor="middle">0</text>
</g>
<circle cx="1687.6" cy="970.9" r="24.3" fill="none" stroke="#000" stroke-width="1.7"/>
<text transform="translate(1687.6 988.5) scale(0.62 1)" font-size="55.5" text-anchor="middle">K</text>
<path d="M1225.9 1269.3L1225.9 1291.3" stroke="#000" stroke-width="1.72" fill="none" />
<path d="M1240.5 1269.3L1240.5 1291.3" stroke="#000" stroke-width="1.72" fill="none" />
<path d="M1199 1284.2L1225.9 1284.2" stroke="#000" stroke-width="1.72" fill="none" />
<path d="M1240.5 1284.2L1267.2 1284.2" stroke="#000" stroke-width="1.72" fill="none" />
<path d="M1225.9 1284.2L1213.9 1286.3L1213.9 1282.1Z" fill="#000"/>
<path d="M1240.5 1284.2L1252.5 1282.1L1252.5 1286.3Z" fill="#000"/>
<ellipse cx="1283" cy="1284.3" rx="8.2" ry="8.2" fill="none" stroke="#000" stroke-width="1.3"/>
<path d="M1274.5 1295.5L1292 1272.5" stroke="#000" stroke-width="1.49" fill="none" />
<text transform="translate(1305.5 1300.3) scale(0.8 1)" font-size="49" text-anchor="middle">0</text>
<circle cx="1321.3" cy="1297.8" r="2.55" fill="#000"/>
<text transform="translate(1349.5 1300.3) scale(0.8 1)" font-size="49" text-anchor="middle">6</text>
<text transform="translate(1371.5 1300.3) scale(0.8 1)" font-size="49" text-anchor="middle">0</text>
<circle cx="1417.2" cy="1284.2" r="24.3" fill="none" stroke="#000" stroke-width="1.7"/>
<text transform="translate(1417.2 1301.8) scale(0.62 1)" font-size="55.5" text-anchor="middle">L</text>
</g>
<g id="v4">
<path d="M1487.2 414.5 L1510.4 384.9 L1623.7 407.2" fill="none" stroke="#000" stroke-width="1.84" />
<path d="M1276.7 344.1 L1276.4 345 L1275.8 358.2 L1268.8 357.1" fill="none" stroke="#000" stroke-width="1.84" />
<path d="M1279.8 346.8 L1279.4 358.9" fill="none" stroke="#000" stroke-width="1.32" />
<path d="M1276.8 343.8L1299.1 346.8C1304.8 347.3 1306.4 351.8 1303.6 355.3L1296.8 361.7C1293.3 363.8 1287 362.9 1275.8 358.2" fill="none" stroke="#000" stroke-width="1.84" />
<path d="M1279.8 349.8L1296.1 353.2L1301.8 350.2" fill="none" stroke="#000" stroke-width="1.32" />
<path d="M1296.1 353.2C1298.5 355.6 1297.3 359.4 1293.3 362" fill="none" stroke="#000" stroke-width="1.32" />
<path d="M1299.1 349.8Q1302.9 352.3 1299.1 357.1" fill="none" stroke="#000" stroke-width="1.32" />
<path d="M1268.8 357.1 L1249.7 381.2" fill="none" stroke="#000" stroke-width="1.84" />
<path d="M1271.2 358 L1252.4 382.7" fill="none" stroke="#000" stroke-width="1.32" />
<path d="M1249.7 381.2 L1249.4 382.1 L1248.8 395.3 L1241.8 394.2" fill="none" stroke="#000" stroke-width="1.84" />
<path d="M1252.9 383.9 L1252.4 396.1" fill="none" stroke="#000" stroke-width="1.32" />
<path d="M1249.8 380.9L1272.1 383.9C1277.9 384.4 1279.4 388.9 1276.7 392.4L1269.8 398.8C1266.4 400.9 1260 400 1248.8 395.3" fill="none" stroke="#000" stroke-width="1.84" />
<path d="M1252.9 387L1269.1 390.3L1274.8 387.3" fill="none" stroke="#000" stroke-width="1.32" />
<path d="M1269.1 390.3C1271.5 392.7 1270.3 396.5 1266.4 399.1" fill="none" stroke="#000" stroke-width="1.32" />
<path d="M1272.1 387Q1275.9 389.4 1272.1 394.2" fill="none" stroke="#000" stroke-width="1.32" />
<path d="M1241.8 394.2 L1221.4 420.3" fill="none" stroke="#000" stroke-width="1.84" />
<path d="M1244.2 395.2 L1224.1 421.8" fill="none" stroke="#000" stroke-width="1.32" />
<path d="M1221.4 420.3 L1221.1 421.2 L1220.5 434.4 L1213.5 433.3" fill="none" stroke="#000" stroke-width="1.84" />
<path d="M1224.5 423 L1224.1 435.2" fill="none" stroke="#000" stroke-width="1.32" />
<path d="M1221.5 420L1243.8 423C1249.5 423.5 1251.1 428 1248.3 431.5L1241.5 437.9C1238 440 1231.7 439.1 1220.5 434.4" fill="none" stroke="#000" stroke-width="1.84" />
<path d="M1224.5 426.1L1240.8 429.4L1246.5 426.4" fill="none" stroke="#000" stroke-width="1.32" />
<path d="M1240.8 429.4C1243.2 431.8 1242 435.6 1238 438.2" fill="none" stroke="#000" stroke-width="1.32" />
<path d="M1243.8 426.1Q1247.6 428.5 1243.8 433.3" fill="none" stroke="#000" stroke-width="1.32" />
<path d="M1213.5 433.3 L1193.3 458.5" fill="none" stroke="#000" stroke-width="1.84" />
<path d="M1215.9 434.2 L1196.1 460" fill="none" stroke="#000" stroke-width="1.32" />
<path d="M1193.3 458.5 L1193 459.4 L1192.4 472.6 L1185.5 471.5" fill="none" stroke="#000" stroke-width="1.84" />
<path d="M1196.5 461.2 L1196.1 473.3" fill="none" stroke="#000" stroke-width="1.32" />
<path d="M1193.5 458.2L1215.8 461.2C1221.5 461.7 1223 466.2 1220.3 469.7L1213.5 476.1C1210 478.2 1203.6 477.3 1192.4 472.6" fill="none" stroke="#000" stroke-width="1.84" />
<path d="M1196.5 464.2L1212.7 467.6L1218.5 464.5" fill="none" stroke="#000" stroke-width="1.32" />
<path d="M1212.7 467.6C1215.2 470 1213.9 473.8 1210 476.4" fill="none" stroke="#000" stroke-width="1.32" />
<path d="M1215.8 464.2Q1219.5 466.7 1215.8 471.5" fill="none" stroke="#000" stroke-width="1.32" />
<path d="M1185.5 471.5 L1166.1 496.7" fill="none" stroke="#000" stroke-width="1.84" />
<path d="M1187.9 472.4 L1168.8 498.2" fill="none" stroke="#000" stroke-width="1.32" />
<path d="M1166.1 496.7 L1165.8 497.6 L1165.2 510.8 L1158.2 509.7" fill="none" stroke="#000" stroke-width="1.84" />
<path d="M1169.2 499.4 L1168.8 511.5" fill="none" stroke="#000" stroke-width="1.32" />
<path d="M1166.2 496.4L1188.5 499.4C1194.2 499.8 1195.8 504.4 1193 507.9L1186.2 514.2C1182.7 516.4 1176.4 515.5 1165.2 510.8" fill="none" stroke="#000" stroke-width="1.84" />
<path d="M1169.2 502.4L1185.5 505.8L1191.2 502.7" fill="none" stroke="#000" stroke-width="1.32" />
<path d="M1185.5 505.8C1187.9 508.2 1186.7 512 1182.7 514.5" fill="none" stroke="#000" stroke-width="1.32" />
<path d="M1188.5 502.4Q1192.3 504.8 1188.5 509.7" fill="none" stroke="#000" stroke-width="1.32" />
<path d="M1158.2 509.7 L1154.4 511.2 L1151.8 517" fill="none" stroke="#000" stroke-width="1.84" />
<path d="M1159.7 508 L1268.8 536.1" fill="none" stroke="#000" stroke-width="1.84" />
<path d="M1154.8 517.9 L1266.1 542.1" fill="none" stroke="#000" stroke-width="1.49" />
<path d="M1159.7 508Q1152.9 509.5 1151.4 517.9L1147.9 578.5Q1147.9 582.3 1152.1 583.3L1212.4 597" fill="none" stroke="#000" stroke-width="1.84" />
<path d="M1155.2 518.6 L1151.8 581.2 L1212.7 593.9" fill="none" stroke="#000" stroke-width="1.32" />
<path d="M1212.4 597Q1221.1 598.9 1222.6 606.5L1220.3 644.4Q1219.5 648.9 1222.6 650.5L1260.5 658.5" fill="none" stroke="#000" stroke-width="1.84" />
<path d="M1211.2 593.9Q1218 597.4 1218.8 606.5L1216.5 645.2Q1216.5 648.2 1220.3 649.7" fill="none" stroke="#000" stroke-width="1.32" />
<path d="M1220.3 646.7 L1261.2 655.3" fill="none" stroke="#000" stroke-width="1.32" />
<path d="M1268.8 536.4 L1262 655.8" fill="none" stroke="#000" stroke-width="1.84" />
<path d="M1260.5 658.5 L1273 640.6 L1275.6 631.5 L1343 538.3" fill="none" stroke="#000" stroke-width="1.84" />
<path d="M1268.8 536.1 L1290.8 506.5 L1404.8 529.2 L1380.9 561.1" fill="none" stroke="#000" stroke-width="1.84" />
<path d="M1290.8 506.5L1290 523.9Q1290 528.5 1292.7 528.8" fill="none" stroke="#000" stroke-width="1.49" />
<path d="M1292.3 523.2 L1394.5 543.6" fill="none" stroke="#000" stroke-width="1.49" />
<path d="M1293 525.8 L1391.5 546.2" fill="none" stroke="#000" stroke-width="1.32" />
<path d="M1196.8 594.7L1193 661.8Q1199.5 666.7 1206.2 661.8L1210.5 597.4" fill="#fff" stroke="#000" stroke-width="1.61" />
<path d="M1200.9 595.5 L1197.1 662.6" fill="none" stroke="#000" stroke-width="1.32" />
<path d="M1185.5 591.4 L1212.4 597" fill="none" stroke="#000" stroke-width="1.84" />
<path d="M1380.9 561.1 L1420 570.2" fill="none" stroke="#000" stroke-width="1.84" />
<path d="M1303.3 341.2 L1296.4 469.2 L1291.5 473.3 L1293.3 477.3 L1299.1 478.6 L1435.9 507.3 L1445 505.2 L1447.1 501 L1487.2 447.5 L1486.1 379.4Z" fill="#fff" stroke="none" />
<path d="M1303.3 341.2 L1296.4 469.2" fill="none" stroke="#000" stroke-width="1.84" />
<path d="M1307 342.7 L1300.6 473" fill="none" stroke="#000" stroke-width="1.49" />
<path d="M1296.4 469.2L1291.5 473.3Q1291.5 476.8 1299.1 478.6" fill="none" stroke="#000" stroke-width="1.49" />
<path d="M1291.5 473.3 L1297.6 472.7 L1300.6 473" fill="none" stroke="#000" stroke-width="1.32" />
<path d="M1299.1 478.6 L1435.9 507.3" fill="none" stroke="#000" stroke-width="1.84" />
<path d="M1300.6 473 L1438 500.3" fill="none" stroke="#000" stroke-width="1.49" />
<path d="M1435.9 507.3L1445 505.2L1447.1 501L1487.2 447.5" fill="none" stroke="#000" stroke-width="1.84" />
<path d="M1438 500.3L1442.2 497.9L1483.3 445.8" fill="none" stroke="#000" stroke-width="1.49" />
<path d="M1438 500.3 L1435.9 507.3" fill="none" stroke="#000" stroke-width="1.32" />
<path d="M1442.2 497.9 L1445 505.2" fill="none" stroke="#000" stroke-width="1.32" />
<ellipse cx="1485.3" cy="446.1" rx="2.2" ry="2.2" fill="#fff" stroke="#000" stroke-width="1.1"/>
<path d="M1445.2 371.1 L1437.3 499.6" fill="none" stroke="#000" stroke-width="1.61" />
<path d="M1450 371.8 L1443.6 498.2" fill="none" stroke="#000" stroke-width="1.49" />
<path d="M1486.1 379.4 L1483 444" fill="none" stroke="#000" stroke-width="1.61" />
</g>
<g id="v4f">
<path d="M1594.9 408.4L1620.9 414L1623.5 407.1Q1627.4 409.1 1627.4 414.9L1624.2 474.7Q1623.5 478.6 1619.6 480.5Q1616.4 482.1 1612.8 481.2L1617 416.9Z" fill="#fff" stroke="none" />
<path d="M1623.2 407.1Q1627.4 408.8 1627.4 414.9L1624.2 474.7Q1623.5 478.6 1619.6 480.5Q1616.4 482.1 1612.8 481.2" fill="none" stroke="#000" stroke-width="1.84" />
<path d="M1622.9 417.5 L1619.6 479.5" fill="none" stroke="#000" stroke-width="1.32" />
<path d="M1617 416.2 L1614.1 480.8" fill="none" stroke="#000" stroke-width="1.32" />
<path d="M1620.9 408.4L1617 414.3Q1617.7 418.8 1622.2 418.2Q1626.1 416.2 1626.8 413" fill="none" stroke="#000" stroke-width="1.32" />
<path d="M1623.5 407.5 L1620.9 414" fill="none" stroke="#000" stroke-width="1.32" />
<path d="M1560.8 497.3L1558.8 596.3Q1565.9 600.8 1573 596.3L1575 497.3" fill="#fff" stroke="#000" stroke-width="1.72" />
<path d="M1564.8 497.3L1562.8 597.3" stroke="#000" stroke-width="1.32" fill="none" />
<path d="M1611.5 424.1Q1614.7 425.4 1615.3 430.6L1612.7 492Q1612.1 497.3 1605.9 501.7Q1602.1 504.3 1597.1 503.5L1603 439.4L1604.6 439.1Z" fill="#fff" stroke="none" />
<path d="M1611.5 424.1Q1614.7 425.4 1615.3 430.6L1612.7 492Q1612.1 497.3 1605.9 501.7Q1602.1 504.3 1596.1 503.3" fill="none" stroke="#000" stroke-width="1.84" />
<path d="M1608.5 441.7L1605.3 501.7" fill="none" stroke="#000" stroke-width="1.32" />
<path d="M1603 439.4L1599.4 503.3" fill="none" stroke="#000" stroke-width="1.49" />
<path d="M1612.1 424.8L1604.6 439.1" fill="none" stroke="#000" stroke-width="1.32" />
<path d="M1615 428.3L1606.9 439.7" fill="none" stroke="#000" stroke-width="1.32" />
<path d="M1543.6 523.3L1540.5 622.3Q1547.6 626.8 1554.7 622.3L1557.8 523.3" fill="#fff" stroke="#000" stroke-width="1.72" />
<path d="M1547.6 523.3L1544.5 623.3" stroke="#000" stroke-width="1.32" fill="none" />
<path d="M1593.2 450.1Q1596.4 451.4 1597 456.6L1594.4 518Q1593.8 523.3 1587.6 527.7Q1583.8 530.3 1578.8 529.5L1584.7 465.4L1586.3 465.1Z" fill="#fff" stroke="none" />
<path d="M1593.2 450.1Q1596.4 451.4 1597 456.6L1594.4 518Q1593.8 523.3 1587.6 527.7Q1583.8 530.3 1577.8 529.3" fill="none" stroke="#000" stroke-width="1.84" />
<path d="M1590.2 467.7L1587 527.7" fill="none" stroke="#000" stroke-width="1.32" />
<path d="M1584.7 465.4L1581.1 529.3" fill="none" stroke="#000" stroke-width="1.49" />
<path d="M1593.8 450.8L1586.3 465.1" fill="none" stroke="#000" stroke-width="1.32" />
<path d="M1596.7 454.3L1588.6 465.7" fill="none" stroke="#000" stroke-width="1.32" />
<path d="M1525.7 548.6L1521.5 647.6Q1528.6 652.1 1535.7 647.6L1539.9 548.6" fill="#fff" stroke="#000" stroke-width="1.72" />
<path d="M1529.7 548.6L1525.5 648.6" stroke="#000" stroke-width="1.32" fill="none" />
<path d="M1574.2 475.4Q1577.4 476.7 1578 481.9L1575.4 543.3Q1574.8 548.6 1568.6 553Q1564.8 555.6 1559.8 554.8L1565.7 490.7L1567.3 490.4Z" fill="#fff" stroke="none" />
<path d="M1574.2 475.4Q1577.4 476.7 1578 481.9L1575.4 543.3Q1574.8 548.6 1568.6 553Q1564.8 555.6 1558.8 554.6" fill="none" stroke="#000" stroke-width="1.84" />
<path d="M1571.2 493L1568 553" fill="none" stroke="#000" stroke-width="1.32" />
<path d="M1565.7 490.7L1562.1 554.6" fill="none" stroke="#000" stroke-width="1.49" />
<path d="M1574.8 476.1L1567.3 490.4" fill="none" stroke="#000" stroke-width="1.32" />
<path d="M1577.7 479.6L1569.6 491" fill="none" stroke="#000" stroke-width="1.32" />
<path d="M1507.1 576.1L1501.8 675.1Q1508.9 679.6 1516 675.1L1521.3 576.1" fill="#fff" stroke="#000" stroke-width="1.72" />
<path d="M1511.1 576.1L1505.8 676.1" stroke="#000" stroke-width="1.32" fill="none" />
<path d="M1554.5 502.9Q1557.7 504.2 1558.3 509.4L1555.7 570.8Q1555.1 576.1 1548.9 580.5Q1545.1 583.1 1540.1 582.3L1546 518.2L1547.6 517.9Z" fill="#fff" stroke="none" />
<path d="M1554.5 502.9Q1557.7 504.2 1558.3 509.4L1555.7 570.8Q1555.1 576.1 1548.9 580.5Q1545.1 583.1 1539.1 582.1" fill="none" stroke="#000" stroke-width="1.84" />
<path d="M1551.5 520.5L1548.3 580.5" fill="none" stroke="#000" stroke-width="1.32" />
<path d="M1546 518.2L1542.4 582.1" fill="none" stroke="#000" stroke-width="1.49" />
<path d="M1555.1 503.6L1547.6 517.9" fill="none" stroke="#000" stroke-width="1.32" />
<path d="M1558 507.1L1549.9 518.5" fill="none" stroke="#000" stroke-width="1.32" />
<path d="M1489.2 602.1L1482.8 701.1Q1489.9 705.6 1497 701.1L1503.4 602.1" fill="#fff" stroke="#000" stroke-width="1.72" />
<path d="M1493.2 602.1L1486.8 702.1" stroke="#000" stroke-width="1.32" fill="none" />
<path d="M1535.5 528.9Q1538.7 530.2 1539.3 535.4L1536.7 596.8Q1536.1 602.1 1529.9 606.5Q1526.1 609.1 1521.1 608.3L1527 544.2L1528.6 543.9Z" fill="#fff" stroke="none" />
<path d="M1535.5 528.9Q1538.7 530.2 1539.3 535.4L1536.7 596.8Q1536.1 602.1 1529.9 606.5Q1526.1 609.1 1520.1 608.1" fill="none" stroke="#000" stroke-width="1.84" />
<path d="M1532.5 546.5L1529.3 606.5" fill="none" stroke="#000" stroke-width="1.32" />
<path d="M1527 544.2L1523.4 608.1" fill="none" stroke="#000" stroke-width="1.49" />
<path d="M1536.1 529.6L1528.6 543.9" fill="none" stroke="#000" stroke-width="1.32" />
<path d="M1539 533.1L1530.9 544.5" fill="none" stroke="#000" stroke-width="1.32" />
<path d="M1471.3 627.4L1463.8 726.4Q1470.9 730.9 1478 726.4L1485.5 627.4" fill="#fff" stroke="#000" stroke-width="1.72" />
<path d="M1475.3 627.4L1467.8 727.4" stroke="#000" stroke-width="1.32" fill="none" />
<path d="M1516.5 554.2Q1519.7 555.5 1520.3 560.7L1517.7 622.1Q1517.1 627.4 1510.9 631.8Q1507.1 634.4 1502.1 633.6L1508 569.5L1509.6 569.2Z" fill="#fff" stroke="none" />
<path d="M1516.5 554.2Q1519.7 555.5 1520.3 560.7L1517.7 622.1Q1517.1 627.4 1510.9 631.8Q1507.1 634.4 1501.1 633.4" fill="none" stroke="#000" stroke-width="1.84" />
<path d="M1513.5 571.8L1510.3 631.8" fill="none" stroke="#000" stroke-width="1.32" />
<path d="M1508 569.5L1504.4 633.4" fill="none" stroke="#000" stroke-width="1.49" />
<path d="M1517.1 554.9L1509.6 569.2" fill="none" stroke="#000" stroke-width="1.32" />
<path d="M1520 558.4L1511.9 569.8" fill="none" stroke="#000" stroke-width="1.32" />
<path d="M1621.2 413.5L1599.1 408.6Q1593.9 408.6 1591.3 412.9L1587.7 416.8Q1586.1 418.3 1589.7 420.2L1611.5 424.1" fill="none" stroke="#000" stroke-width="1.84" />
<path d="M1623.1 416.4L1603.7 413.9Q1598.1 413.3 1596.8 416.7L1595.1 418.8" fill="none" stroke="#000" stroke-width="1.32" />
<path d="M1603.7 409.9L1603 422.2" fill="none" stroke="#000" stroke-width="1.32" />
<path d="M1594.6 409.3L1597.6 414.2" fill="none" stroke="#000" stroke-width="1.32" />
<path d="M1589.1 417.8L1595.6 416.8" fill="none" stroke="#000" stroke-width="1.32" />
<path d="M1621.2 413.5Q1625.6 414.8 1625.7 416.1Q1625.1 416.1 1623.1 415.8Q1620.9 414.3 1621.2 413.5" fill="none" stroke="#000" stroke-width="1.32" />
<path d="M1602.9 435.5L1580.8 430.6Q1575.6 430.6 1573 436.5L1569.4 442Q1567.8 444.3 1571.4 446.2L1593.2 450.1" fill="none" stroke="#000" stroke-width="1.84" />
<path d="M1604.8 440.4L1585.4 437.1Q1579.8 436.5 1578.5 440.7L1576.8 444.8" fill="none" stroke="#000" stroke-width="1.32" />
<path d="M1585.4 431.9L1584.7 448.2" fill="none" stroke="#000" stroke-width="1.32" />
<path d="M1576.3 431.3L1579.3 437.8" fill="none" stroke="#000" stroke-width="1.32" />
<path d="M1570.8 443.8L1577.3 442.8" fill="none" stroke="#000" stroke-width="1.32" />
<path d="M1602.9 435.5Q1607.3 436.8 1607.4 440.1Q1606.8 442.1 1604.8 441.8Q1602.6 440.3 1602.9 435.5" fill="none" stroke="#000" stroke-width="1.32" />
<path d="M1583.9 460.8L1561.8 455.9Q1556.6 455.9 1554 461.8L1550.4 467.3Q1548.8 469.6 1552.4 471.5L1574.2 475.4" fill="none" stroke="#000" stroke-width="1.84" />
<path d="M1585.8 465.7L1566.4 462.4Q1560.8 461.8 1559.5 466L1557.8 470.1" fill="none" stroke="#000" stroke-width="1.32" />
<path d="M1566.4 457.2L1565.7 473.5" fill="none" stroke="#000" stroke-width="1.32" />
<path d="M1557.3 456.6L1560.3 463.1" fill="none" stroke="#000" stroke-width="1.32" />
<path d="M1551.8 469.1L1558.3 468.1" fill="none" stroke="#000" stroke-width="1.32" />
<path d="M1583.9 460.8Q1588.3 462.1 1588.4 465.4Q1587.8 467.4 1585.8 467.1Q1583.6 465.6 1583.9 460.8" fill="none" stroke="#000" stroke-width="1.32" />
<path d="M1564.2 488.3L1542.1 483.4Q1536.9 483.4 1534.3 489.3L1530.7 494.8Q1529.1 497.1 1532.7 499L1554.5 502.9" fill="none" stroke="#000" stroke-width="1.84" />
<path d="M1566.1 493.2L1546.7 489.9Q1541.1 489.3 1539.8 493.5L1538.1 497.6" fill="none" stroke="#000" stroke-width="1.32" />
<path d="M1546.7 484.7L1546 501" fill="none" stroke="#000" stroke-width="1.32" />
<path d="M1537.6 484.1L1540.6 490.6" fill="none" stroke="#000" stroke-width="1.32" />
<path d="M1532.1 496.6L1538.6 495.6" fill="none" stroke="#000" stroke-width="1.32" />
<path d="M1564.2 488.3Q1568.6 489.6 1568.7 492.9Q1568.1 494.9 1566.1 494.6Q1563.9 493.1 1564.2 488.3" fill="none" stroke="#000" stroke-width="1.32" />
<path d="M1545.2 514.3L1523.1 509.4Q1517.9 509.4 1515.3 515.3L1511.7 520.8Q1510.1 523.1 1513.7 525L1535.5 528.9" fill="none" stroke="#000" stroke-width="1.84" />
<path d="M1547.1 519.2L1527.7 515.9Q1522.1 515.3 1520.8 519.5L1519.1 523.6" fill="none" stroke="#000" stroke-width="1.32" />
<path d="M1527.7 510.7L1527 527" fill="none" stroke="#000" stroke-width="1.32" />
<path d="M1518.6 510.1L1521.6 516.6" fill="none" stroke="#000" stroke-width="1.32" />
<path d="M1513.1 522.6L1519.6 521.6" fill="none" stroke="#000" stroke-width="1.32" />
<path d="M1545.2 514.3Q1549.6 515.6 1549.7 518.9Q1549.1 520.9 1547.1 520.6Q1544.9 519.1 1545.2 514.3" fill="none" stroke="#000" stroke-width="1.32" />
<path d="M1526.2 539.6L1504.1 534.7Q1498.9 534.7 1496.3 540.6L1492.7 546.1Q1491.1 548.4 1494.7 550.3L1516.5 554.2" fill="none" stroke="#000" stroke-width="1.84" />
<path d="M1528.1 544.5L1508.7 541.2Q1503.1 540.6 1501.8 544.8L1500.1 548.9" fill="none" stroke="#000" stroke-width="1.32" />
<path d="M1508.7 536L1508 552.3" fill="none" stroke="#000" stroke-width="1.32" />
<path d="M1499.6 535.4L1502.6 541.9" fill="none" stroke="#000" stroke-width="1.32" />
<path d="M1494.1 547.9L1500.6 546.9" fill="none" stroke="#000" stroke-width="1.32" />
<path d="M1526.2 539.6Q1530.6 540.9 1530.7 544.2Q1530.1 546.2 1528.1 545.9Q1525.9 544.4 1526.2 539.6" fill="none" stroke="#000" stroke-width="1.32" />
<path d="M1510.8 565.4L1488.7 560.5Q1483.5 560.5 1480.9 564.8L1477.3 568.7Q1475.7 570.2 1479.3 572.1L1498.7 575.4" fill="none" stroke="#000" stroke-width="1.84" />
<path d="M1512.7 568.3L1493.3 565.8Q1487.7 565.2 1486.4 568.6L1484.7 570.7" fill="none" stroke="#000" stroke-width="1.32" />
<path d="M1493.3 561.8L1492.6 574.1" fill="none" stroke="#000" stroke-width="1.32" />
<path d="M1484.2 561.2L1487.2 566.1" fill="none" stroke="#000" stroke-width="1.32" />
<path d="M1478.7 569.7L1485.2 568.7" fill="none" stroke="#000" stroke-width="1.32" />
<path d="M1510.8 565.4Q1515.2 566.7 1515.3 568Q1514.7 568 1512.7 567.7Q1510.5 566.2 1510.8 565.4" fill="none" stroke="#000" stroke-width="1.32" />
</g>
<g id="v4b">
<path d="M1496.4 577.3Q1503.2 580.3 1500.2 587.1L1496.4 650.3Q1494.1 652.3 1491.1 652.3L1496.4 584.8Z" fill="#fff" stroke="#000" stroke-width="1.38" />
<path d="M1382 559.8L1375.2 678.8L1417.6 688.6Q1421.8 689.1 1422.4 685.6L1426.7 641.7Q1427.4 638.6 1431.2 639.1L1491.1 652.7L1496.4 584.8L1382 559.8" fill="#fff" stroke="#000" stroke-width="1.84" />
<path d="M1382 564.4 L1494.8 589.4" fill="none" stroke="#000" stroke-width="1.49" />
<path d="M1377 677 L1418.3 686.4" fill="none" stroke="#000" stroke-width="1.32" />
<path d="M1418.3 687.1L1419.4 644.7Q1420.3 637.1 1428.2 637.1L1491.8 651.2" fill="none" stroke="#000" stroke-width="1.49" />
<path d="M1382 559.8L1491.8 583.3Q1496.4 584.2 1498.2 580.3" fill="none" stroke="#000" stroke-width="1.84" />
</g>
<g id="v4t">
<path d="M1294.7 186.4 L1265.5 225.5 L1264.4 243.9 L1253 244.7 L1216.7 292.4 L1213.9 318.9 L1219.7 324.5 L1496.7 379.4 L1501.2 377.9 L1534.5 332.4 L1535.8 306.7 L1537.6 309.7 L1547.4 311.2 L1552 307.4 L1584.8 261.2 L1585.6 237 L1582.3 233.2 L1501.2 208.5 L1484.5 229.7 L1387.4 207.3 L1387.4 188.2 L1381.1 184.5 L1335.6 181.1Z" fill="#fff" stroke="none" />
<path d="M1335.6 181.1 L1381.1 184.5" fill="none" stroke="#000" stroke-width="1.84" />
<path d="M1381.1 184.5L1385.2 185.2Q1387.4 186.1 1387.4 188.6L1387.4 207.3" fill="none" stroke="#000" stroke-width="1.84" />
<path d="M1294.7 186.4 L1265.5 225.5" fill="none" stroke="#000" stroke-width="1.84" />
<path d="M1293 191.7 L1267.7 225.8" fill="none" stroke="#000" stroke-width="1.03" />
<path d="M1265.5 225.5L1278.8 223.9C1291.7 223.5 1298.8 227.3 1298.2 234.1C1297.7 240.9 1287.9 246.2 1275.8 246.7L1266.7 246.1L1253 244.7" fill="none" stroke="#000" stroke-width="1.84" />
<path d="M1265.2 225.8 L1264.4 244.2" fill="none" stroke="#000" stroke-width="1.49" />
<path d="M1267.7 228.8 L1267 245.2" fill="none" stroke="#000" stroke-width="1.32" />
<path d="M1281.8 224.2 L1281.1 245.2" fill="none" stroke="#000" stroke-width="1.32" />
<path d="M1267.7 228.8L1281.8 228.8C1290.9 229.5 1295.8 233.3 1294.7 238.2Q1293.9 240.9 1290.9 242.7" fill="none" stroke="#000" stroke-width="1.32" />
<path d="M1253 244.7 L1216.7 292.4" fill="none" stroke="#000" stroke-width="1.84" />
<path d="M1254.8 247.3 L1219.4 293.6" fill="none" stroke="#000" stroke-width="1.03" />
<path d="M1220.5 291.4L1216.7 292.4Q1214.5 293.6 1214.4 296.2L1213.9 318.9Q1214.4 323.5 1219.7 324.5" fill="none" stroke="#000" stroke-width="1.84" />
<path d="M1220.5 291.4 L1292.7 296.7 L1301.2 303" fill="none" stroke="#000" stroke-width="1.84" />
<path d="M1218.2 297.7 L1300.8 304.5" fill="none" stroke="#000" stroke-width="1.49" />
<path d="M1218.2 297.7 L1217.4 322" fill="none" stroke="#000" stroke-width="1.32" />
<path d="M1301.2 303 L1301.2 325" fill="none" stroke="#000" stroke-width="1.84" />
<path d="M1219.7 324.5 L1496.7 379.4" fill="none" stroke="#000" stroke-width="1.84" />
<path d="M1217.4 322.1 L1500.5 380.6" fill="none" stroke="#000" stroke-width="1.03" />
<path d="M1381.1 184.5 L1294.2 298.2" fill="none" stroke="#000" stroke-width="1.84" />
<path d="M1385.2 186.4 L1301.2 303" fill="none" stroke="#000" stroke-width="1.84" />
<path d="M1376.5 197.3 L1374.2 200.3" fill="none" stroke="#000" stroke-width="1.03" />
<path d="M1387.4 207.3 L1358.8 247" fill="none" stroke="#000" stroke-width="1.84" />
<path d="M1328.8 288.6 L1301.8 325" fill="none" stroke="#000" stroke-width="1.84" />
<path d="M1358.3 247 L1356.8 292.4" fill="none" stroke="#000" stroke-width="1.84" />
<path d="M1358.3 247 L1458 266.5" fill="none" stroke="#000" stroke-width="1.84" />
<path d="M1385.6 209.4 L1484.5 229.7" fill="none" stroke="#000" stroke-width="1.84" />
<path d="M1328.8 288.6 L1426.2 308.9" fill="none" stroke="#000" stroke-width="1.84" />
<path d="M1301.8 325 L1414.1 348.8 L1415.6 326.4" fill="none" stroke="#000" stroke-width="1.84" />
<ellipse cx="1315.5" cy="187.1" rx="20.4" ry="10.4" fill="#fff" stroke="#000" stroke-width="1.5"/>
<path d="M1299.1 177.3L1299.1 184.8A15.6 7.6 0 0 0 1330.3 184.8L1330.3 177.3" fill="#fff" stroke="#000" stroke-width="1.65"/>
<ellipse cx="1314.7" cy="177.3" rx="15.6" ry="7.6" fill="#fff" stroke="#000" stroke-width="1.65"/>
<path d="M1501.2 208.5 L1416.4 325.6" fill="none" stroke="#000" stroke-width="2.99" />
<path d="M1508.5 212.7 L1426.2 325.3" fill="none" stroke="#000" stroke-width="1.84" />
<path d="M1501.2 208.5L1582.3 233.2Q1585.3 234.7 1585.6 237.3L1584.8 261.2L1552 307.4Q1549.7 311.2 1545.9 311.2L1537.6 309.7" fill="none" stroke="#000" stroke-width="1.84" />
<path d="M1501.2 208.5 L1508.5 212.7" fill="none" stroke="#000" stroke-width="1.32" />
<path d="M1582.3 233.6 L1548.2 280.9" fill="none" stroke="#000" stroke-width="1.84" />
<path d="M1584.1 240 L1552.3 283.9" fill="none" stroke="#000" stroke-width="1.32" />
<path d="M1548.2 280.9Q1552 282.4 1552 286.2L1551.2 307.4" fill="none" stroke="#000" stroke-width="1.49" />
<path d="M1545.9 280.9 L1545.2 310.5" fill="none" stroke="#000" stroke-width="1.32" />
<path d="M1548.2 280.9L1534.5 277.6C1525.5 273 1508.8 272.6 1505 281.7C1502.7 290 1516.4 298.3 1531.5 301.8L1535.8 306.7L1534.5 332.4L1501.2 377.9L1496.7 379.4" fill="none" stroke="#000" stroke-width="1.84" />
<path d="M1533.8 277.9 L1533 302.4" fill="none" stroke="#000" stroke-width="1.32" />
<path d="M1533.8 278.8C1520.9 276.4 1509.5 279.4 1508.8 285.5C1508.8 290 1513.3 294.5 1520.9 297.9" fill="none" stroke="#000" stroke-width="1.32" />
<path d="M1531.5 301.8 L1502.7 344.5" fill="none" stroke="#000" stroke-width="1.84" />
<path d="M1529.2 305.5 L1506.5 338.2 L1504.2 343.3" fill="none" stroke="#000" stroke-width="1.32" />
<path d="M1502.7 344.5Q1500 346.8 1499.7 350.6L1496.7 377.6" fill="none" stroke="#000" stroke-width="1.84" />
<path d="M1503 350.6 L1501.2 376.1" fill="none" stroke="#000" stroke-width="1.32" />
<path d="M1416.4 325.6 L1470.9 339.2 L1486.1 344.5 L1500.5 346.8" fill="none" stroke="#000" stroke-width="1.84" />
<path d="M1426.2 325.3 L1464.8 335.5 L1477 341.5 L1489.1 345.3 L1501.2 346.1" fill="none" stroke="#000" stroke-width="1.32" />
<path d="M1415.6 329.4 L1498.2 352.1" fill="none" stroke="#000" stroke-width="1.49" />
</g>
<g id="v6">
<path d="M1197.9 1457 L1217.1 1429.7 L1240.6 1450.9" fill="none" stroke="#000" stroke-width="1.84" />
<path d="M1217.9 1430 L1240.9 1450.6" fill="none" stroke="#000" stroke-width="2.53" />
<path d="M1197.9 1457 L1196.4 1541.8" fill="none" stroke="#000" stroke-width="1.84" />
<path d="M1198.5 1455.2 L1235.8 1465.3" fill="none" stroke="#000" stroke-width="1.49" />
<path d="M1240.6 1450.9Q1246.7 1453.9 1247.9 1459.2L1242.9 1472.1Q1236.8 1471.4 1235.3 1464.5Q1235.3 1460.8 1240.6 1450.9" fill="none" stroke="#000" stroke-width="1.49" />
<path d="M1237.9 1459.2 L1245.5 1464.5" fill="none" stroke="#000" stroke-width="1.32" />
<path d="M1248.9 1458.5 L1544.4 1524.4" fill="none" stroke="#000" stroke-width="1.84" />
<path d="M1246.7 1466.8 L1538.8 1533" fill="none" stroke="#000" stroke-width="1.49" />
<path d="M1242.9 1472.1 L1534.2 1542.3" fill="none" stroke="#000" stroke-width="1.84" />
<path d="M1544.4 1524.4L1539.8 1536.5Q1538.3 1544.1 1534.2 1542.3" fill="none" stroke="#000" stroke-width="1.49" />
<path d="M1534.2 1542.3Q1531.5 1538.8 1538.3 1532.7" fill="none" stroke="#000" stroke-width="1.32" />
<path d="M1290.6 1445.6L1305.8 1449.4Q1310 1452.4 1309.1 1457.7L1308.2 1466.1" fill="none" stroke="#000" stroke-width="1.84" />
<path d="M1305.8 1449.4L1296.7 1460Q1294.8 1464.1 1301.2 1466.1L1316.4 1469.1Q1326.2 1469.8 1331.2 1463.8" fill="none" stroke="#000" stroke-width="1.84" />
<path d="M1308.8 1458.5L1302.4 1466.4" fill="none" stroke="#000" stroke-width="1.49" />
<path d="M1345.2 1458.5L1360.3 1462.3Q1364.5 1465.3 1363.6 1470.6L1362.7 1478.9" fill="none" stroke="#000" stroke-width="1.84" />
<path d="M1360.3 1462.3L1351.2 1472.9Q1349.4 1477 1355.8 1478.9L1370.9 1482Q1380.8 1482.7 1385.8 1476.7" fill="none" stroke="#000" stroke-width="1.84" />
<path d="M1363.3 1471.4L1357 1479.2" fill="none" stroke="#000" stroke-width="1.49" />
<path d="M1399.7 1472.1L1414.8 1475.9Q1419.1 1478.9 1418.2 1484.2L1417.3 1492.6" fill="none" stroke="#000" stroke-width="1.84" />
<path d="M1414.8 1475.9L1405.8 1486.5Q1403.9 1490.6 1410.3 1492.6L1425.5 1495.6Q1435.3 1496.4 1440.3 1490.3" fill="none" stroke="#000" stroke-width="1.84" />
<path d="M1417.9 1485L1411.5 1492.9" fill="none" stroke="#000" stroke-width="1.49" />
<path d="M1454.2 1485.5L1469.4 1489.2Q1473.6 1492.3 1472.7 1497.6L1471.8 1505.9" fill="none" stroke="#000" stroke-width="1.84" />
<path d="M1469.4 1489.2L1460.3 1499.8Q1458.5 1503.9 1464.8 1505.9L1480 1508.9Q1489.8 1509.7 1494.8 1503.6" fill="none" stroke="#000" stroke-width="1.84" />
<path d="M1472.4 1498.3L1466.1 1506.2" fill="none" stroke="#000" stroke-width="1.49" />
<path d="M1508.8 1498.6L1523.9 1502.4Q1528.2 1505.5 1527.3 1510.8L1526.4 1519.1" fill="none" stroke="#000" stroke-width="1.84" />
<path d="M1523.9 1502.4L1514.8 1513Q1513 1517.1 1519.4 1519.1L1534.5 1522.1Q1544.4 1522.9 1549.4 1516.8" fill="none" stroke="#000" stroke-width="1.84" />
<path d="M1527 1511.5L1520.6 1519.4" fill="none" stroke="#000" stroke-width="1.49" />
<path d="M1240.9 1439.5Q1242.1 1435 1246.7 1434.7L1256.5 1437.3Q1261.1 1439.1 1260.8 1444.8L1260.3 1451.2" fill="none" stroke="#000" stroke-width="1.84" />
<path d="M1256.5 1437.3L1250 1448.6Q1248.2 1453.9 1255.8 1455.8L1266.4 1457.3Q1273.2 1457 1275.8 1450.9" fill="none" stroke="#000" stroke-width="1.84" />
<path d="M1260.5 1445.6L1254.5 1455.5" fill="none" stroke="#000" stroke-width="1.49" />
<path d="M1277.1 1372.1L1276.1 1466.1L1290 1469.5L1291.1 1372.1" fill="#fff" stroke="none" />
<path d="M1277.1 1372.1L1276.1 1466.1" stroke="#000" stroke-width="1.61" fill="none" />
<path d="M1291.1 1372.1L1290 1469.5" stroke="#000" stroke-width="1.61" fill="none" />
<ellipse cx="1284.1" cy="1372.1" rx="7" ry="4.1" fill="#fff" stroke="#000" stroke-width="1.65"/>
<path d="M1331.4 1385.5L1330.3 1479.7L1344.2 1483.1L1345.3 1385.5" fill="#fff" stroke="none" />
<path d="M1331.4 1385.5L1330.3 1479.7" stroke="#000" stroke-width="1.61" fill="none" />
<path d="M1345.3 1385.5L1344.2 1483.1" stroke="#000" stroke-width="1.61" fill="none" />
<ellipse cx="1338.3" cy="1385.5" rx="7" ry="4.1" fill="#fff" stroke="#000" stroke-width="1.65"/>
<path d="M1385.6 1399.1L1384.5 1493.3L1398.5 1496.7L1399.5 1399.1" fill="#fff" stroke="none" />
<path d="M1385.6 1399.1L1384.5 1493.3" stroke="#000" stroke-width="1.61" fill="none" />
<path d="M1399.5 1399.1L1398.5 1496.7" stroke="#000" stroke-width="1.61" fill="none" />
<ellipse cx="1392.6" cy="1399.1" rx="7" ry="4.1" fill="#fff" stroke="#000" stroke-width="1.65"/>
<path d="M1440 1412L1438.9 1506.2L1452.9 1509.6L1453.9 1412" fill="#fff" stroke="none" />
<path d="M1440 1412L1438.9 1506.2" stroke="#000" stroke-width="1.61" fill="none" />
<path d="M1453.9 1412L1452.9 1509.6" stroke="#000" stroke-width="1.61" fill="none" />
<ellipse cx="1447" cy="1412" rx="7" ry="4.1" fill="#fff" stroke="#000" stroke-width="1.65"/>
<path d="M1494.2 1424.4L1492.7 1519.8L1506.7 1523.2L1508.2 1424.4" fill="#fff" stroke="none" />
<path d="M1494.2 1424.4L1492.7 1519.8" stroke="#000" stroke-width="1.61" fill="none" />
<path d="M1508.2 1424.4L1506.7 1523.2" stroke="#000" stroke-width="1.61" fill="none" />
<ellipse cx="1501.2" cy="1424.4" rx="7" ry="4.1" fill="#fff" stroke="#000" stroke-width="1.65"/>
<path d="M1548.8 1437.3L1547.3 1523.6L1561.2 1527L1562.7 1437.3" fill="#fff" stroke="none" />
<path d="M1548.8 1437.3L1547.3 1523.6" stroke="#000" stroke-width="1.61" fill="none" />
<path d="M1562.7 1437.3L1561.2 1527" stroke="#000" stroke-width="1.61" fill="none" />
<ellipse cx="1555.8" cy="1437.3" rx="7" ry="4.1" fill="#fff" stroke="#000" stroke-width="1.65"/>
<path d="M1545.2 1523.6 L1577 1520.6 L1583.8 1517.6" fill="none" stroke="#000" stroke-width="1.49" />
<path d="M1563.3 1511.5 L1581.5 1515.6" fill="none" stroke="#000" stroke-width="1.84" />
<path d="M1581.5 1515.6L1589.8 1518.8Q1592.1 1519.8 1592.1 1522.9L1592.1 1566.1Q1592.9 1568.3 1595.2 1566.4L1619.4 1531.2" fill="none" stroke="#000" stroke-width="1.84" />
<path d="M1543.6 1531.2 L1575.5 1539.5" fill="none" stroke="#000" stroke-width="1.84" />
<path d="M1589.8 1519.1L1575.5 1539.5Q1577.3 1541.8 1577.3 1545.6L1577 1610" fill="none" stroke="#000" stroke-width="1.84" />
<path d="M1593.6 1562.3 L1617.6 1526.7" fill="none" stroke="#000" stroke-width="1.32" />
<path d="M1592.1 1532.7L1602.7 1522.9Q1605 1520.9 1608 1521.8L1616.4 1524.8Q1620.6 1526.7 1620.6 1531.2L1620.6 1587.3L1607.3 1610" fill="none" stroke="#000" stroke-width="1.84" />
<path d="M1595.9 1534.2 L1603.5 1523.9" fill="none" stroke="#000" stroke-width="1.32" />
<path d="M1577.7 1560 L1574.7 1654.2 L1610 1610" fill="none" stroke="#000" stroke-width="1.84" />
<path d="M1533.8 1646.7 L1574.7 1654.8" fill="none" stroke="#000" stroke-width="1.84" />
</g>
<g id="v6p">
<path d="M1263.1 1734.6 L1185.2 1849.4 L1183 1852.6 L1184.1 1875.3 L1188.4 1877.9 L1282.6 1899.1 L1288 1900.2 L1289 1898.1 L1299.9 1887.2 L1317.2 1887.9 L1326.9 1890.5 L1326.9 1910 L1426.5 1934.8 L1433 1932.7 L1464.4 1887.2 L1464.4 1868.8 L1499 1821.6 L1500.1 1826.6 L1507.7 1827.7 L1507.7 1808.2 L1541.2 1758.9 L1541.2 1748.7 L1535.8 1743.3 L1490.3 1732.5Z" fill="#fff" stroke="none" />
<path d="M1398.4 1929.9Q1399.4 1942.4 1416.8 1942Q1433 1940.7 1435.8 1932.7" fill="none" stroke="#000" stroke-width="1.49" />
<path d="M1399.9 1932.7Q1405.9 1938.1 1416.8 1938.1Q1427.6 1937.7 1432.3 1933.8" fill="none" stroke="#000" stroke-width="1.32" />
<path d="M1263.1 1734.6 L1185.2 1849.4" fill="none" stroke="#000" stroke-width="1.84" />
<path d="M1265.7 1737.9 L1189.5 1849.8" fill="none" stroke="#000" stroke-width="1.32" />
<path d="M1185.2 1849.4Q1182.6 1850.4 1183 1854.1L1184.1 1874.2Q1184.7 1877.1 1188.4 1877.9L1282.6 1899.1Q1286.9 1900.9 1288.6 1898.1" fill="none" stroke="#000" stroke-width="1.84" />
<path d="M1185.2 1849.4 L1284.7 1871" fill="none" stroke="#000" stroke-width="1.84" />
<path d="M1187.7 1854.1 L1284.3 1875.8" fill="none" stroke="#000" stroke-width="1.38" />
<path d="M1188.4 1854.1 L1187.7 1877.1" fill="none" stroke="#000" stroke-width="1.32" />
<path d="M1284.7 1871Q1288.6 1871.4 1290.8 1865.6C1295.5 1856.9 1308.5 1852.6 1321.5 1854.8C1334.5 1856.9 1341 1866.7 1338.4 1873.2Q1335.6 1879.7 1329.1 1882.3L1327.6 1885.7" fill="none" stroke="#000" stroke-width="1.84" />
<path d="M1290.8 1865.6Q1290.3 1871 1290.1 1875.3L1289 1898.1" fill="none" stroke="#000" stroke-width="1.49" />
<path d="M1284.7 1875.8 L1283.6 1899.1" fill="none" stroke="#000" stroke-width="1.32" />
<path d="M1318.9 1855.4 L1318.1 1887.9" fill="none" stroke="#000" stroke-width="1.38" />
<path d="M1322.6 1856.3 L1321.9 1888.7" fill="none" stroke="#000" stroke-width="1.38" />
<path d="M1289 1898.1Q1293.4 1888.3 1306.4 1886.6Q1319.4 1886.6 1326.9 1890.9" fill="none" stroke="#000" stroke-width="1.49" />
<path d="M1293.8 1871C1298.8 1861.3 1310.7 1858.4 1318.9 1859.1" fill="none" stroke="#000" stroke-width="1.32" />
<path d="M1327.6 1885.7L1326.9 1910L1426.5 1934.8Q1430.8 1935.5 1433 1932.7L1464.4 1887.2L1464.4 1868.8L1499 1821.6L1500.1 1826.6L1507.7 1827.7L1507.7 1808.2L1541.2 1758.9L1541.2 1749.4Q1540.6 1744.4 1535.8 1743.3L1516.3 1739" fill="none" stroke="#000" stroke-width="1.84" />
<path d="M1500.1 1826.6 L1500.1 1810.8 L1507.7 1808.2" fill="none" stroke="#000" stroke-width="1.49" />
<path d="M1329.1 1883.5L1427.6 1905.2Q1431.5 1905.6 1433.2 1901.3L1539 1745.9" fill="none" stroke="#000" stroke-width="1.84" />
<path d="M1331.3 1888.7 L1427.6 1911" fill="none" stroke="#000" stroke-width="1.38" />
<path d="M1331.3 1888.7 L1331.3 1911" fill="none" stroke="#000" stroke-width="1.32" />
<path d="M1427.6 1911L1426.7 1934.2" fill="none" stroke="#000" stroke-width="1.32" />
<path d="M1433.2 1905.2 L1433 1932.7" fill="none" stroke="#000" stroke-width="1.32" />
<path d="M1428.9 1903.5 L1534.1 1742.9" fill="none" stroke="#000" stroke-width="1.49" />
<path d="M1271.7 1732.5 L1270.6 1819 L1267.4 1821.6 L1270 1826 L1392.9 1854.1 L1399.4 1852.8 L1404.8 1846.3 L1457.9 1769.3 L1451.4 1732.5Z" fill="#fff" stroke="none" />
<path d="M1271.7 1732.5 L1270.6 1819" fill="none" stroke="#000" stroke-width="1.49" />
<path d="M1275.2 1732.5 L1276.1 1820.3" fill="none" stroke="#000" stroke-width="1.32" />
<path d="M1270.6 1819Q1266.3 1821.2 1270 1826L1392.9 1854.1Q1398.4 1854.1 1404.8 1846.3L1457.9 1769.7" fill="none" stroke="#000" stroke-width="1.84" />
<path d="M1276.1 1820.3L1394.2 1847.6Q1399 1847.2 1401.2 1843.3L1454 1767.1" fill="none" stroke="#000" stroke-width="1.49" />
<path d="M1270 1826 L1276.1 1820.3" fill="none" stroke="#000" stroke-width="1.32" />
<path d="M1392.9 1854.1 L1394.2 1847.6" fill="none" stroke="#000" stroke-width="1.32" />
<path d="M1404.8 1846.3 L1400.7 1843.3" fill="none" stroke="#000" stroke-width="1.32" />
<path d="M1395.1 1760.6 L1394 1848.9" fill="none" stroke="#000" stroke-width="1.49" />
<path d="M1401.6 1762.8 L1400.7 1843.7" fill="none" stroke="#000" stroke-width="1.49" />
<path d="M1395.1 1762.8 L1443.2 1774.7" fill="none" stroke="#000" stroke-width="1.49" />
<path d="M1454 1767.1Q1455.3 1764.9 1457.9 1766Q1459.6 1767.5 1457.9 1769.7" fill="none" stroke="#000" stroke-width="1.32" />
</g>
<g id="v6n">
<path d="M1155.2 1520.5 L1138.5 1545.5 L1140 1588.6 L1135.5 1597 L1109.7 1633.3 L1108.2 1693.9 L1112.7 1698.5 L1124.8 1698.5 L1130.2 1694.7 L1137 1686.4 L1149.1 1689.4 L1149.1 1703.8 L1152.1 1707.6 L1197.6 1718.2 L1202.1 1715.9 L1206.7 1710.6 L1212.7 1702.3 L1227.9 1705.3 L1228.6 1722.7 L1231.7 1726.5 L1279.4 1737.9 L1285.5 1734.8 L1362.6 1757 L1367.1 1754.7 L1377 1742.6 L1393.6 1745.2 L1393.6 1763 L1396.7 1766.1 L1442.1 1775.9 L1446.7 1772.1 L1455.8 1762.3 L1467.9 1763.8 L1467.9 1779.7 L1471.7 1783.5 L1482.3 1785.8 L1488.3 1779.7 L1531.5 1717.6 L1533 1615.3 L1530 1612.3 L1495.9 1603.2 L1492.9 1603.2 L1481.5 1608.5Z" fill="#fff" stroke="none" />
<path d="M1155.2 1520.5 L1190.8 1528.8" fill="none" stroke="#000" stroke-width="2.53" />
<path d="M1199.1 1537.1 L1481.5 1608.5" fill="none" stroke="#000" stroke-width="2.76" />
<path d="M1199.4 1545.5 L1479.2 1615.8" fill="none" stroke="#000" stroke-width="1.49" />
<path d="M1199.4 1550 L1480.3 1620.6" fill="none" stroke="#000" stroke-width="1.49" />
<path d="M1199.4 1587.9 L1481.5 1657" fill="none" stroke="#000" stroke-width="1.49" />
<path d="M1199.4 1592.4 L1481.2 1661.2" fill="none" stroke="#000" stroke-width="1.49" />
<path d="M1155.2 1520.5 L1138.5 1545.5" fill="none" stroke="#000" stroke-width="1.84" />
<path d="M1157 1522.7 L1141.1 1546.4" fill="none" stroke="#000" stroke-width="1.32" />
<path d="M1138.5 1545.5 L1139.7 1588.6" fill="none" stroke="#000" stroke-width="1.49" />
<path d="M1143 1548.5 L1143 1589.7" fill="none" stroke="#000" stroke-width="1.49" />
<path d="M1138.8 1545.5 L1143.3 1548.2" fill="none" stroke="#000" stroke-width="1.32" />
<path d="M1142.7 1545.5 L1183.6 1539.7" fill="none" stroke="#000" stroke-width="1.49" />
<path d="M1143.8 1550.3 L1183.2 1545.2" fill="none" stroke="#000" stroke-width="1.49" />
<path d="M1141.5 1589.7 L1182.4 1584.2" fill="none" stroke="#000" stroke-width="1.49" />
<path d="M1143.8 1593.9 L1182.7 1588.8" fill="none" stroke="#000" stroke-width="1.49" />
<path d="M1139.7 1588.6Q1138.2 1593.9 1135.5 1597L1109.7 1633.3" fill="none" stroke="#000" stroke-width="1.84" />
<path d="M1143 1593.2 L1137.3 1598.5 L1112.4 1634.1" fill="none" stroke="#000" stroke-width="1.32" />
<path d="M1109.7 1633.3L1108.2 1693.9Q1108.9 1697.7 1112.7 1698.5L1124.8 1698.5Q1128.6 1697.7 1130.2 1694.7" fill="none" stroke="#000" stroke-width="1.84" />
<path d="M1115 1636.4 L1112.7 1697.7" fill="none" stroke="#000" stroke-width="1.32" />
<path d="M1127.1 1639.4 L1124.5 1697.7" fill="none" stroke="#000" stroke-width="1.32" />
<path d="M1109.7 1633.3Q1111.2 1636.1 1115 1636.4L1125.2 1638.6Q1128.6 1638.6 1130.6 1634.1L1135.2 1624.5Q1137.3 1620.5 1141.5 1620.9L1157.4 1625Q1162.4 1627 1160.5 1631.5L1151.4 1643.9" fill="none" stroke="#000" stroke-width="1.84" />
<path d="M1112.7 1634.1 L1125.6 1638.6" fill="none" stroke="#000" stroke-width="1.32" />
<path d="M1131.7 1636.4 L1130.2 1695.5" fill="none" stroke="#000" stroke-width="1.49" />
<path d="M1142.3 1622 L1140 1681.8" fill="none" stroke="#000" stroke-width="1.32" />
<path d="M1135.5 1625.8 L1133.9 1685.6" fill="none" stroke="#000" stroke-width="1.32" />
<path d="M1130.2 1694.7L1135.5 1687.9Q1137.7 1684.1 1142.3 1684.1L1149.4 1685.6" fill="none" stroke="#000" stroke-width="1.49" />
<path d="M1156.7 1637.1 L1158.9 1631.1 L1156.7 1626.1" fill="none" stroke="#000" stroke-width="1.32" />
<path d="M1142.3 1624.2L1156.7 1628" fill="none" stroke="#000" stroke-width="1.32" />
<path d="M1151.4 1643.9 L1200.6 1656.1" fill="none" stroke="#000" stroke-width="1.84" />
<path d="M1153.2 1647.7 L1199.4 1659.8" fill="none" stroke="#000" stroke-width="1.38" />
<path d="M1150.6 1645.5 L1149.4 1703.8" fill="none" stroke="#000" stroke-width="1.49" />
<path d="M1154.1 1647.7 L1152.4 1706.5" fill="none" stroke="#000" stroke-width="1.32" />
<path d="M1198.3 1658.3 L1197.9 1717" fill="none" stroke="#000" stroke-width="1.32" />
<path d="M1202.9 1656.1 L1202.1 1715.8" fill="none" stroke="#000" stroke-width="1.49" />
<path d="M1149.4 1703.8Q1149.7 1706.8 1152.4 1707.6L1197.1 1718.5Q1200.2 1718.2 1202.1 1715.8" fill="none" stroke="#000" stroke-width="1.84" />
<path d="M1200.6 1656.4Q1204.4 1655.6 1205.9 1651.1L1210.5 1641.2Q1212.7 1636.7 1218 1637.4L1237.7 1642.4Q1243 1645 1240.8 1649.5L1231.7 1661.7" fill="none" stroke="#000" stroke-width="1.84" />
<path d="M1211.2 1644.2Q1213.9 1640.5 1218.8 1641.5L1235.5 1645.8" fill="none" stroke="#000" stroke-width="1.32" />
<path d="M1212 1643 L1210 1701.8" fill="none" stroke="#000" stroke-width="1.32" />
<path d="M1219.5 1638.9 L1217.3 1699.5" fill="none" stroke="#000" stroke-width="1.32" />
<path d="M1234.7 1646.5 L1237 1652.6 L1232.4 1659.4" fill="none" stroke="#000" stroke-width="1.32" />
<path d="M1201.4 1712.4L1206.7 1707.1Q1209.7 1700.3 1215.8 1700L1229.4 1703.3" fill="none" stroke="#000" stroke-width="1.49" />
<path d="M1230.9 1662.9 L1282.4 1675.8" fill="none" stroke="#000" stroke-width="1.84" />
<path d="M1232.7 1666.7 L1281.2 1679.5" fill="none" stroke="#000" stroke-width="1.38" />
<path d="M1230.2 1664.4 L1228.6 1722.7" fill="none" stroke="#000" stroke-width="1.49" />
<path d="M1233.6 1666.7 L1231.7 1725.5" fill="none" stroke="#000" stroke-width="1.32" />
<path d="M1280.2 1678 L1279.4 1737.1" fill="none" stroke="#000" stroke-width="1.32" />
<path d="M1284.7 1675.8 L1283.6 1735.9" fill="none" stroke="#000" stroke-width="1.49" />
<path d="M1228.6 1722.7Q1228.9 1725.8 1231.7 1726.5L1278.6 1738.6Q1281.7 1738.3 1283.6 1735.9" fill="none" stroke="#000" stroke-width="1.84" />
<path d="M1282.4 1675.8Q1286.2 1675 1287.7 1670.5L1292.3 1660.6Q1294.5 1656.1 1299.8 1656.8L1319.5 1661.8Q1324.8 1664.4 1322.6 1668.9L1313.5 1681.1" fill="none" stroke="#000" stroke-width="1.84" />
<path d="M1293 1663.6Q1295.8 1659.8 1300.6 1660.9L1317.3 1665.2" fill="none" stroke="#000" stroke-width="1.32" />
<path d="M1293.8 1662.4 L1291.8 1721.2" fill="none" stroke="#000" stroke-width="1.32" />
<path d="M1301.4 1658.3 L1299.1 1718.9" fill="none" stroke="#000" stroke-width="1.32" />
<path d="M1316.5 1665.9 L1318.8 1672 L1314.2 1678.8" fill="none" stroke="#000" stroke-width="1.32" />
<path d="M1283.2 1731.8L1288.5 1726.5Q1291.5 1719.7 1297.6 1719.4L1311.2 1722.7" fill="none" stroke="#000" stroke-width="1.49" />
<path d="M1312 1682.6 L1363.6 1693.6" fill="none" stroke="#000" stroke-width="1.84" />
<path d="M1313.8 1686.4 L1362.6 1697.1" fill="none" stroke="#000" stroke-width="1.38" />
<path d="M1311.2 1684.1 L1309.7 1742.4" fill="none" stroke="#000" stroke-width="1.49" />
<path d="M1314.7 1686.4 L1313 1745.5" fill="none" stroke="#000" stroke-width="1.32" />
<path d="M1361.5 1696.1 L1360.3 1755.5" fill="none" stroke="#000" stroke-width="1.32" />
<path d="M1366.1 1694.1 L1367.1 1754.7" fill="none" stroke="#000" stroke-width="1.49" />
<path d="M1309.7 1742.4Q1310 1745.5 1313 1746.2" fill="none" stroke="#000" stroke-width="1.84" />
<path d="M1313 1746.2 L1361.8 1757" fill="none" stroke="#000" stroke-width="1.84" />
<path d="M1361.8 1757Q1365.2 1757 1367.1 1754.7" fill="none" stroke="#000" stroke-width="1.84" />
<path d="M1361.1 1700.2Q1364.8 1699.4 1366.4 1694.8L1370.9 1685Q1373.2 1680.5 1378.5 1681.2L1398.2 1686.2Q1403.5 1688.8 1401.2 1693.3L1392.1 1705.5" fill="none" stroke="#000" stroke-width="1.84" />
<path d="M1371.7 1688Q1374.4 1684.2 1379.2 1685.3L1395.9 1689.5" fill="none" stroke="#000" stroke-width="1.32" />
<path d="M1372.4 1686.8 L1370.5 1745.6" fill="none" stroke="#000" stroke-width="1.32" />
<path d="M1380 1682.7 L1377.7 1743.3" fill="none" stroke="#000" stroke-width="1.32" />
<path d="M1395.2 1690.3 L1397.4 1696.4 L1392.9 1703.2" fill="none" stroke="#000" stroke-width="1.32" />
<path d="M1361.8 1756.2L1367.1 1750.9Q1370.2 1744.1 1376.2 1743.8L1389.8 1747.1" fill="none" stroke="#000" stroke-width="1.49" />
<path d="M1395.2 1702.4 L1442.9 1714.5" fill="none" stroke="#000" stroke-width="1.84" />
<path d="M1397 1706.2 L1441.7 1718.3" fill="none" stroke="#000" stroke-width="1.38" />
<path d="M1394.4 1703.9 L1393.6 1763" fill="none" stroke="#000" stroke-width="1.49" />
<path d="M1397.9 1706.2 L1396.7 1765.8" fill="none" stroke="#000" stroke-width="1.32" />
<path d="M1440.6 1716.8 L1441.8 1774.8" fill="none" stroke="#000" stroke-width="1.32" />
<path d="M1445.2 1714.5 L1446.1 1773.6" fill="none" stroke="#000" stroke-width="1.49" />
<path d="M1393.6 1763Q1393.9 1766.1 1396.7 1766.8L1441.1 1776.4Q1444.1 1776.1 1446.1 1773.6" fill="none" stroke="#000" stroke-width="1.84" />
<path d="M1439.8 1717.6Q1443.6 1716.8 1445.2 1712.3L1448.9 1703.9Q1451.2 1699.4 1456.5 1698.6L1475.5 1700.9Q1481.5 1703.2 1480 1707L1470.9 1719.1" fill="none" stroke="#000" stroke-width="1.84" />
<path d="M1450.5 1705.5Q1453.2 1701.7 1458 1702.1L1473.9 1704.2" fill="none" stroke="#000" stroke-width="1.32" />
<path d="M1455 1703.9 L1453.5 1761.5" fill="none" stroke="#000" stroke-width="1.32" />
<path d="M1461.8 1699.7 L1460.3 1760.8" fill="none" stroke="#000" stroke-width="1.32" />
<path d="M1446.7 1772.1L1451.2 1767.6Q1455 1761.8 1460.3 1761.5L1467.9 1763.8" fill="none" stroke="#000" stroke-width="1.49" />
<path d="M1474.7 1703.9 L1477 1707.7 L1473.2 1713.8" fill="none" stroke="#000" stroke-width="1.32" />
<path d="M1470.9 1719.1L1483 1721.8Q1486.8 1722.4 1487.9 1720.3L1511.1 1685.8" fill="none" stroke="#000" stroke-width="1.84" />
<path d="M1484.5 1719.4 L1508 1684.5" fill="none" stroke="#000" stroke-width="1.32" />
<path d="M1470.2 1720.6L1467.9 1779.7Q1468.6 1783 1471.7 1783.5L1482.3 1785.8Q1486.1 1785.5 1488.3 1779.7L1531.5 1717.6L1533 1620.6Q1533 1613.8 1530 1612.3L1495.9 1603.2L1492.9 1603.2L1481.5 1608.5" fill="none" stroke="#000" stroke-width="1.84" />
<path d="M1473.9 1724.4 L1471.7 1782.7" fill="none" stroke="#000" stroke-width="1.32" />
<path d="M1484.5 1726.7 L1482.3 1785" fill="none" stroke="#000" stroke-width="1.32" />
<path d="M1489.1 1725.2 L1487.6 1778.9" fill="none" stroke="#000" stroke-width="1.49" />
<path d="M1481.5 1608.5 L1481.5 1658.5" fill="none" stroke="#000" stroke-width="1.49" />
<path d="M1485.3 1611.5 L1485.3 1657" fill="none" stroke="#000" stroke-width="1.32" />
<path d="M1486.8 1612.3L1509.5 1635.8Q1513.3 1638.8 1517.1 1635.5L1532.3 1613.8" fill="none" stroke="#000" stroke-width="1.84" />
<path d="M1492.9 1603.9 L1517.1 1632" fill="none" stroke="#000" stroke-width="1.49" />
<path d="M1510.3 1638 L1508.8 1679.7" fill="none" stroke="#000" stroke-width="1.49" />
<path d="M1517.1 1636.5 L1516.4 1678.5" fill="none" stroke="#000" stroke-width="1.49" />
<path d="M1482.3 1659.2L1506.5 1682.7Q1508.8 1685.8 1511.1 1685.8" fill="none" stroke="#000" stroke-width="1.84" />
<path d="M1486.1 1657 L1509.5 1679.7" fill="none" stroke="#000" stroke-width="1.49" />
<path d="M1508.8 1679.7Q1512.6 1681.2 1516.4 1678.5L1516.4 1679.7Q1515.6 1684.2 1511.1 1685.8" fill="none" stroke="#000" stroke-width="1.32" />
<path d="M1184.1 1535.6L1182.7 1629.1Q1189.4 1636.1 1196.1 1629.1L1197.4 1535.6Z" fill="#fff" stroke="none" />
<path d="M1184.1 1535.6L1182.7 1629.1Q1189.4 1636.1 1196.1 1629.1L1197.4 1535.6" fill="none" stroke="#000" stroke-width="1.61" />
<ellipse cx="1190.8" cy="1535.6" rx="6.7" ry="3.9" fill="#fff" stroke="#000" stroke-width="1.65"/>
<path d="M1265.9 1555.3L1264.4 1648.2Q1271.1 1655.2 1277.7 1648.2L1279.2 1555.3Z" fill="#fff" stroke="none" />
<path d="M1265.9 1555.3L1264.4 1648.2Q1271.1 1655.2 1277.7 1648.2L1279.2 1555.3" fill="none" stroke="#000" stroke-width="1.61" />
<ellipse cx="1272.6" cy="1555.3" rx="6.7" ry="3.9" fill="#fff" stroke="#000" stroke-width="1.65"/>
<path d="M1347.3 1574.5L1345.6 1667.9Q1352.3 1674.9 1358.9 1667.9L1360.6 1574.5Z" fill="#fff" stroke="none" />
<path d="M1347.3 1574.5L1345.6 1667.9Q1352.3 1674.9 1358.9 1667.9L1360.6 1574.5" fill="none" stroke="#000" stroke-width="1.61" />
<ellipse cx="1353.9" cy="1574.5" rx="6.7" ry="3.9" fill="#fff" stroke="#000" stroke-width="1.65"/>
<path d="M1427.9 1594.1L1426.7 1687.6Q1433.3 1694.6 1440 1687.6L1441.2 1594.1Z" fill="#fff" stroke="none" />
<path d="M1427.9 1594.1L1426.7 1687.6Q1433.3 1694.6 1440 1687.6L1441.2 1594.1" fill="none" stroke="#000" stroke-width="1.61" />
<ellipse cx="1434.5" cy="1594.1" rx="6.7" ry="3.9" fill="#fff" stroke="#000" stroke-width="1.65"/>
</g>
</g>
</svg>
</body></html>
